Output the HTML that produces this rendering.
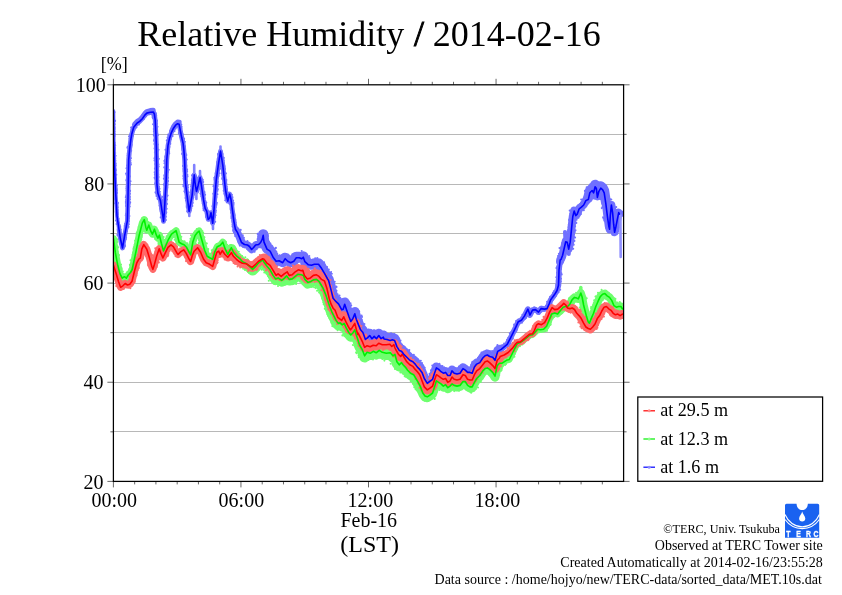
<!DOCTYPE html>
<html><head><meta charset="utf-8"><title>Relative Humidity / 2014-02-16</title>
<style>
html,body{margin:0;padding:0;background:#fff;}
svg{display:block;will-change:transform;font-family:"Liberation Serif","Times New Roman",serif;fill:#000;}
.ax{stroke:#000;stroke-width:1.25;fill:none;stroke-linecap:square}
.tk{stroke:#000;stroke-width:0.6;fill:none}
.gr{stroke:#b8b8b8;stroke-width:1;fill:none}
.h{fill:none;stroke-linejoin:round;stroke-linecap:round}
.l{fill:none;stroke-width:1.6;stroke-linejoin:round;stroke-linecap:round}
</style></head><body>
<svg width="842" height="595" viewBox="0 0 842 595">
<rect width="842" height="595" fill="#fff"/>

<line class="gr" x1="113.4" x2="623.60" y1="134.5" y2="134.5"/>
<line class="gr" x1="113.4" x2="623.60" y1="184.5" y2="184.5"/>
<line class="gr" x1="113.4" x2="623.60" y1="233.5" y2="233.5"/>
<line class="gr" x1="113.4" x2="623.60" y1="283.5" y2="283.5"/>
<line class="gr" x1="113.4" x2="623.60" y1="332.5" y2="332.5"/>
<line class="gr" x1="113.4" x2="623.60" y1="382.5" y2="382.5"/>
<line class="gr" x1="113.4" x2="623.60" y1="431.5" y2="431.5"/>
<clipPath id="cp"><rect x="113.4" y="84.80" width="510.2" height="396.6"/></clipPath><g clip-path="url(#cp)">
<path class="h" stroke="#7070ff" stroke-width="3.8" d="M113.4,111.0 L113.7,140.0 L114.4,165.0 L115.5,190.0 L117.0,216.0 L119.0,229.4"/>
<path fill="none" stroke="#7070ff" stroke-width="2.1" stroke-linecap="round" d="M114.6,124.3h0M112.4,132.6h0M112.6,119.6h0M114.6,136.1h0M114.5,120.4h0M112.5,115.0h0M115.1,120.9h0M112.4,124.4h0M112.8,137.6h0M111.8,114.0h0M112.5,117.7h0M114.5,124.2h0M114.9,134.3h0M112.2,118.7h0M114.5,128.9h0M114.5,127.4h0M112.7,137.3h0M112.5,114.8h0M114.5,112.3h0M112.2,117.0h0M114.5,131.5h0M112.6,120.3h0M113.3,157.8h0M115.2,158.3h0M112.8,155.4h0M115.2,152.9h0M114.7,142.7h0M115.2,145.5h0M115.1,147.9h0M115.3,160.6h0M112.9,145.7h0M115.0,155.2h0M114.9,149.8h0M112.8,163.1h0M113.2,160.5h0M115.6,155.8h0M114.9,144.6h0M112.8,156.6h0M113.3,158.6h0M115.6,163.5h0M113.2,164.6h0M113.1,167.5h0M116.3,174.8h0M116.5,187.3h0M116.2,184.5h0M115.6,165.4h0M113.6,168.5h0M113.0,169.5h0M116.9,185.5h0M113.2,166.6h0M115.6,169.3h0M115.8,170.2h0M114.0,183.3h0M113.7,174.2h0M116.9,189.1h0M114.0,175.4h0M116.0,181.9h0M115.9,178.5h0M113.7,180.0h0M116.5,186.3h0M114.7,196.4h0M116.9,190.8h0M117.6,211.1h0M114.5,191.6h0M117.0,192.9h0M117.8,214.4h0M117.2,203.0h0M115.0,199.0h0M116.0,214.5h0M115.1,203.3h0M114.2,192.0h0M117.8,203.7h0M117.7,207.4h0M114.8,194.9h0M117.6,209.9h0M117.9,202.8h0M117.4,205.9h0M114.9,196.6h0M117.7,212.7h0M115.8,211.9h0M119.8,228.4h0M116.6,224.0h0M120.2,226.9h0M119.7,227.6h0M118.5,218.8h0M120.1,227.9h0M116.0,220.5h0M119.8,225.3h0M116.8,223.8h0M119.0,222.7h0M116.7,220.0h0"/>
<path class="h" stroke="#7070ff" stroke-width="4.8" d="M119.0,229.4 L120.4,238.8 L122.5,248.0 L124.6,235.8 L127.4,220.6 L128.0,197.8 L128.4,175.0 L128.7,159.5 L129.7,148.4 L130.7,140.4 L131.7,134.3 L133.7,127.2 L137.2,123.0 L139.7,121.4 L142.3,118.7 L144.8,115.1 L146.8,113.1 L150.3,112.3 L153.4,112.1 L154.4,114.1 L155.2,120.2 L155.9,134.3 L156.4,147.4 L156.6,159.5 L156.8,175.0 L156.9,184.2 L157.9,193.3 L160.4,200.4 L162.9,216.5 L163.5,221.4 L164.3,213.0 L165.2,197.0 L166.0,184.2 L166.5,170.0 L166.8,159.5 L168.0,145.4 L169.5,138.3 L171.5,132.3 L173.5,128.2 L175.6,125.2 L177.6,123.7 L179.1,124.2 L180.1,129.3 L181.6,137.3 L183.1,143.4 L183.9,150.4 L184.6,160.0 L185.1,173.0 L185.6,184.2 L187.7,200.4 L189.1,211.5 L190.6,203.4 L192.0,196.1 L193.4,183.0 L194.2,174.8 L195.2,184.0 L196.5,191.5 L198.0,186.0 L200.1,177.3 L201.2,184.0 L202.1,190.0 L203.6,200.1 L205.2,208.7 L206.7,211.2 L208.2,219.3 L209.7,218.2 L211.0,212.7 L212.7,223.3 L214.0,210.2 L214.7,199.5 L216.2,180.4 L218.3,165.2 L220.5,151.1 L222.8,165.2 L224.2,178.0 L225.5,190.0 L226.8,197.0 L227.8,201.1 L229.6,194.0 L230.9,199.0 L232.4,210.2 L233.9,221.3 L235.4,229.3 L236.0,230.2"/>
<path fill="none" stroke="#7070ff" stroke-width="2.1" stroke-linecap="round" d="M120.6,229.6h0M121.6,237.0h0M120.5,229.7h0M121.8,237.6h0M117.9,235.4h0M117.4,234.9h0M121.7,237.0h0M122.0,235.4h0M120.1,243.7h0M122.3,240.1h0M119.9,243.8h0M122.9,241.6h0M122.1,239.3h0M122.0,239.4h0M120.9,247.4h0M122.4,239.2h0M122.5,237.4h0M124.9,246.4h0M122.9,237.2h0M126.1,237.7h0M125.8,239.3h0M121.1,243.4h0M124.9,246.4h0M125.0,245.3h0M122.6,236.0h0M128.3,224.7h0M128.5,226.9h0M125.1,223.7h0M124.7,225.9h0M123.1,235.5h0M127.4,228.3h0M128.8,224.3h0M127.0,231.2h0M128.7,221.2h0M128.1,225.7h0M127.9,225.9h0M123.2,235.5h0M129.4,216.0h0M130.2,202.3h0M126.1,213.9h0M126.2,199.9h0M129.7,206.5h0M129.5,206.4h0M129.9,199.3h0M128.9,218.1h0M129.7,202.5h0M125.9,215.2h0M125.9,202.9h0M125.8,215.4h0M126.1,205.0h0M126.5,202.9h0M125.9,201.6h0M129.8,203.7h0M126.0,206.0h0M126.5,188.4h0M129.9,184.8h0M129.7,183.5h0M126.5,195.2h0M126.2,196.4h0M129.8,196.9h0M129.8,183.7h0M126.7,186.4h0M130.1,190.9h0M129.6,196.8h0M126.6,179.5h0M126.7,190.6h0M129.8,176.4h0M125.8,197.3h0M129.9,193.8h0M130.5,181.3h0M126.4,180.4h0M127.1,165.5h0M126.8,173.7h0M126.5,168.3h0M127.2,165.5h0M130.1,161.5h0M127.0,168.0h0M127.0,167.7h0M126.1,173.6h0M130.4,160.8h0M130.9,164.6h0M130.6,162.9h0M126.5,174.7h0M131.1,149.6h0M130.6,158.0h0M131.2,150.8h0M128.0,151.3h0M130.9,158.2h0M127.8,153.4h0M127.7,155.2h0M131.0,150.1h0M127.4,147.8h0M131.5,145.5h0M127.7,146.9h0M131.3,146.8h0M128.4,147.2h0M131.6,144.6h0M129.6,136.1h0M130.2,134.5h0M132.9,135.8h0M129.0,136.2h0M129.6,138.6h0M134.5,129.8h0M131.1,127.6h0M131.5,129.6h0M135.7,128.1h0M131.0,131.5h0M131.6,129.3h0M135.0,122.5h0M136.5,127.2h0M139.0,124.5h0M135.4,122.2h0M135.0,122.7h0M138.9,124.6h0M137.9,120.4h0M139.2,119.9h0M140.9,117.8h0M138.7,119.8h0M146.2,116.2h0M141.0,116.8h0M143.8,119.0h0M142.3,115.4h0M146.6,115.3h0M145.6,112.2h0M147.5,111.1h0M149.6,114.3h0M148.4,114.3h0M151.6,110.0h0M150.9,113.7h0M155.8,113.2h0M152.3,114.1h0M152.4,115.2h0M153.2,115.7h0M153.0,118.2h0M152.5,117.1h0M156.2,115.4h0M156.8,121.7h0M154.0,125.1h0M156.8,123.7h0M154.4,133.1h0M153.9,131.3h0M157.0,120.6h0M153.8,129.1h0M153.1,124.2h0M157.5,126.8h0M153.9,124.4h0M154.4,135.4h0M157.7,144.5h0M157.4,134.9h0M157.5,134.4h0M153.9,135.4h0M154.5,144.0h0M153.8,134.8h0M154.3,139.5h0M157.8,135.3h0M154.0,140.7h0M154.6,148.4h0M157.9,150.8h0M158.8,158.8h0M155.0,157.2h0M158.5,149.8h0M157.9,150.8h0M154.5,158.3h0M158.1,156.7h0M154.9,152.3h0M158.6,166.5h0M154.6,160.4h0M158.2,170.6h0M155.3,164.1h0M154.9,168.6h0M155.1,160.2h0M158.2,174.5h0M158.5,164.6h0M158.4,159.6h0M158.1,163.3h0M154.7,172.3h0M154.9,174.2h0M158.5,183.5h0M155.3,175.7h0M158.4,180.7h0M158.5,177.0h0M154.6,177.8h0M155.2,183.4h0M155.2,178.8h0M159.5,188.7h0M156.1,192.2h0M158.9,188.5h0M159.8,191.8h0M156.1,193.1h0M159.0,186.7h0M155.5,192.4h0M159.8,194.4h0M157.5,198.3h0M157.7,199.0h0M156.5,194.7h0M156.5,196.0h0M160.5,196.2h0M163.7,212.3h0M160.4,210.0h0M160.2,208.5h0M163.9,208.4h0M159.8,205.7h0M159.6,205.8h0M164.4,214.8h0M163.6,210.0h0M162.2,201.4h0M160.3,209.7h0M162.7,205.3h0M160.6,210.9h0M164.9,216.0h0M165.3,219.7h0M164.8,220.7h0M161.9,220.8h0M160.7,217.4h0M165.8,216.7h0M162.3,213.9h0M165.5,219.5h0M162.1,219.9h0M165.4,216.5h0M165.9,220.1h0M163.5,201.8h0M162.8,204.4h0M163.0,196.9h0M163.3,196.9h0M166.9,203.9h0M162.9,201.5h0M162.9,210.8h0M166.9,199.5h0M166.7,208.8h0M163.3,204.0h0M166.3,212.3h0M166.1,212.9h0M167.6,184.5h0M167.1,188.6h0M167.3,185.5h0M166.8,196.5h0M163.8,184.6h0M167.6,195.5h0M164.0,184.2h0M164.3,185.0h0M163.8,184.5h0M167.3,187.3h0M163.9,178.7h0M168.0,170.8h0M168.1,181.1h0M164.3,175.4h0M164.2,178.2h0M167.9,171.8h0M164.5,176.4h0M164.7,177.7h0M167.9,177.7h0M167.8,172.3h0M164.3,167.4h0M165.0,159.9h0M164.5,163.3h0M165.3,162.1h0M168.8,169.7h0M164.4,160.9h0M168.4,169.8h0M168.0,167.3h0M165.5,149.8h0M165.5,156.1h0M166.1,150.1h0M169.0,152.1h0M169.4,146.9h0M169.2,153.4h0M165.3,156.6h0M165.4,157.9h0M169.1,151.9h0M165.4,157.4h0M166.1,149.7h0M170.7,139.3h0M170.1,142.2h0M170.3,143.7h0M166.8,140.5h0M169.8,143.9h0M167.3,140.1h0M168.3,134.5h0M172.6,136.0h0M168.3,135.8h0M167.6,137.5h0M169.9,132.4h0M170.8,130.5h0M174.5,131.1h0M170.0,131.3h0M175.7,128.6h0M176.6,126.5h0M172.8,126.8h0M175.0,123.8h0M176.7,126.2h0M177.5,125.6h0M177.8,126.1h0M181.3,128.2h0M181.3,124.5h0M181.6,126.7h0M177.6,126.4h0M183.1,136.5h0M179.3,133.2h0M178.8,133.1h0M179.6,134.1h0M182.4,133.8h0M182.1,132.1h0M182.6,134.5h0M184.8,141.7h0M184.0,139.2h0M183.9,140.4h0M184.1,138.5h0M184.2,142.1h0M182.2,147.8h0M184.9,146.3h0M182.4,149.9h0M182.2,149.1h0M181.8,144.9h0M182.1,153.9h0M186.3,155.0h0M186.8,159.6h0M185.6,153.6h0M182.7,153.0h0M186.1,159.5h0M185.9,158.2h0M185.7,155.6h0M186.4,170.4h0M183.6,171.0h0M186.1,162.8h0M186.5,168.9h0M186.3,166.6h0M183.0,165.9h0M183.5,169.1h0M187.1,171.4h0M186.3,165.4h0M187.1,169.8h0M187.0,184.1h0M187.1,181.9h0M187.5,176.4h0M183.5,178.6h0M183.8,179.9h0M183.4,176.1h0M186.8,174.5h0M187.3,174.8h0M185.5,198.1h0M184.9,192.3h0M184.4,191.3h0M183.4,184.9h0M189.0,199.2h0M188.4,192.0h0M187.5,185.4h0M186.0,200.5h0M183.5,186.2h0M184.7,191.2h0M187.9,185.0h0M187.9,187.3h0M186.7,206.9h0M190.6,207.7h0M186.7,206.0h0M189.7,203.4h0M190.8,210.2h0M189.4,202.9h0M186.9,205.5h0M187.2,211.4h0M190.0,206.7h0M191.2,208.6h0M188.2,208.9h0M188.4,207.3h0M192.2,205.3h0M188.1,206.4h0M187.5,208.1h0M192.3,206.0h0M189.2,198.9h0M190.5,196.1h0M193.2,197.4h0M189.6,200.9h0M192.7,202.9h0M189.2,202.7h0M194.5,185.5h0M191.0,190.4h0M191.7,185.4h0M194.0,194.8h0M194.7,184.1h0M191.2,186.3h0M194.5,193.6h0M194.8,183.3h0M190.5,192.6h0M191.7,183.0h0M192.2,179.3h0M195.6,178.7h0M195.8,176.2h0M195.5,177.4h0M192.6,175.9h0M191.8,180.8h0M192.0,175.2h0M196.6,179.5h0M192.9,175.4h0M195.9,175.9h0M193.2,180.4h0M196.9,177.6h0M196.5,180.6h0M193.5,182.7h0M195.0,191.3h0M194.9,191.0h0M197.0,184.2h0M194.5,188.7h0M193.7,187.9h0M194.9,191.7h0M199.1,188.5h0M198.0,191.8h0M195.2,190.8h0M198.2,191.2h0M200.8,181.7h0M199.6,186.1h0M198.5,177.7h0M198.5,178.0h0M200.3,183.3h0M197.8,180.0h0M199.9,184.0h0M203.2,182.0h0M198.6,180.2h0M201.8,179.1h0M202.8,179.9h0M198.2,179.4h0M199.7,183.4h0M203.3,188.0h0M199.2,184.5h0M203.2,186.3h0M203.1,185.5h0M200.3,187.6h0M205.1,194.6h0M201.0,194.2h0M201.4,196.3h0M204.3,191.8h0M204.8,194.4h0M204.5,192.2h0M204.9,194.9h0M200.5,193.5h0M205.6,203.0h0M205.4,201.3h0M207.1,208.2h0M203.6,208.8h0M205.7,203.9h0M202.8,203.5h0M206.3,202.5h0M204.4,210.6h0M203.6,210.3h0M209.3,214.2h0M209.5,213.5h0M208.6,213.5h0M206.0,217.0h0M208.9,213.0h0M205.9,215.9h0M209.0,211.5h0M209.2,220.5h0M208.3,216.9h0M208.3,217.5h0M208.2,217.3h0M208.8,215.1h0M208.6,215.3h0M210.4,219.2h0M210.2,218.4h0M209.5,216.9h0M214.6,222.0h0M211.2,223.0h0M213.0,214.3h0M213.1,214.7h0M212.8,215.1h0M215.8,210.7h0M212.2,212.0h0M214.9,216.4h0M215.6,215.2h0M214.9,217.2h0M211.3,214.0h0M215.5,212.5h0M215.2,221.8h0M211.8,213.4h0M215.2,213.0h0M216.8,202.8h0M212.8,206.1h0M212.7,205.9h0M216.2,202.9h0M216.6,203.5h0M216.5,204.8h0M215.6,207.1h0M212.5,206.3h0M215.8,207.0h0M217.4,183.1h0M213.7,185.7h0M217.6,185.9h0M216.5,197.0h0M217.8,181.9h0M217.6,184.2h0M216.5,194.2h0M217.3,190.0h0M213.3,193.8h0M213.5,186.3h0M217.3,188.2h0M217.5,190.8h0M217.8,189.3h0M217.4,194.2h0M216.2,197.7h0M218.6,175.9h0M215.7,173.3h0M214.3,177.9h0M219.3,168.9h0M215.1,177.0h0M220.0,168.8h0M219.7,165.6h0M218.4,174.6h0M220.1,165.8h0M219.5,168.5h0M219.3,173.3h0M214.5,179.7h0M217.7,159.1h0M218.0,154.8h0M217.3,161.5h0M220.5,165.0h0M217.2,162.7h0M220.4,164.2h0M217.2,163.1h0M217.1,163.1h0M218.1,153.9h0M221.9,151.6h0M221.0,159.2h0M219.0,152.8h0M223.8,157.9h0M223.8,162.4h0M220.7,161.6h0M223.7,160.4h0M220.1,162.8h0M222.5,154.0h0M224.1,164.2h0M219.4,158.5h0M219.9,160.9h0M220.8,161.8h0M225.3,173.8h0M224.4,165.9h0M221.7,173.3h0M221.1,166.4h0M222.5,175.1h0M225.0,169.0h0M224.5,167.8h0M224.5,166.3h0M225.9,173.4h0M221.3,166.5h0M226.4,180.1h0M226.2,181.3h0M222.3,178.9h0M226.0,181.1h0M226.6,186.7h0M222.2,178.3h0M226.2,183.2h0M226.9,188.8h0M223.4,183.6h0M223.0,184.1h0M227.6,193.5h0M223.7,190.7h0M224.4,193.7h0M224.3,191.1h0M224.6,193.0h0M224.7,194.4h0M225.2,200.2h0M225.7,198.6h0M226.0,199.9h0M229.4,200.6h0M226.4,199.5h0M226.7,198.9h0M230.3,198.5h0M230.7,197.9h0M231.3,196.7h0M231.5,195.3h0M231.9,194.8h0M232.5,197.3h0M227.8,195.1h0M230.7,209.6h0M230.7,208.3h0M230.0,204.0h0M229.2,203.4h0M233.1,200.8h0M233.5,204.7h0M233.7,203.0h0M229.6,200.0h0M230.7,208.3h0M234.4,214.3h0M231.5,217.4h0M231.5,216.2h0M232.4,220.9h0M231.3,212.8h0M232.3,221.0h0M235.4,219.9h0M231.5,218.3h0M234.5,215.5h0M235.6,222.2h0M232.6,222.5h0M233.2,227.4h0M232.5,224.6h0M232.6,226.1h0M232.5,226.4h0M234.6,230.8h0"/>
<path class="h" stroke="#7070ff" stroke-width="7.5" d="M236.0,230.2 L237.4,232.4 L239.5,237.4 L241.5,242.5 L244.5,244.5 L247.5,245.0 L249.5,246.5 L251.6,249.5 L253.6,247.5 L255.6,245.0 L258.6,244.5 L260.6,242.5 L262.0,239.8"/>
<path fill="none" stroke="#7070ff" stroke-width="2.1" stroke-linecap="round" d="M240.7,229.9h0M234.0,232.3h0M235.5,235.1h0M242.8,235.3h0M235.0,234.5h0M235.2,236.1h0M243.9,237.9h0M238.1,241.6h0M244.0,240.1h0M243.2,237.3h0M242.9,246.7h0M244.4,240.5h0M239.8,245.6h0M246.1,242.0h0M247.4,241.1h0M247.0,248.9h0M247.3,249.0h0M253.4,246.6h0M248.3,250.3h0M254.5,246.7h0M249.5,246.1h0M254.6,251.8h0M257.0,248.5h0M256.7,249.2h0M256.4,242.0h0M256.8,248.0h0M257.3,241.7h0M258.0,240.7h0M260.8,246.2h0M264.2,244.2h0M257.8,239.7h0M264.4,242.8h0"/>
<path class="h" stroke="#7070ff" stroke-width="10.5" d="M262.0,239.0 L262.2,238.6 L263.2,234.6 L264.0,241.3 L267.0,248.3 L270.1,250.3 L273.1,256.4 L276.1,260.4 L279.1,259.9 L282.7,261.9 L285.2,257.9 L287.7,260.4 L290.7,261.9 L293.8,260.4 L296.3,256.9 L299.3,256.9 L301.8,257.9 L303.3,256.4 L304.9,260.9 L308.4,264.0 L311.4,264.5 L314.4,263.5 L318.5,263.5 L321.5,267.5 L324.5,272.5 L327.6,278.2 L328.6,279.7 L330.0,285.1"/>
<path fill="none" stroke="#7070ff" stroke-width="2.1" stroke-linecap="round" d="M258.3,236.8h0M257.7,233.9h0M266.9,237.6h0M267.2,237.0h0M267.9,236.3h0M258.5,235.6h0M267.8,235.1h0M259.4,240.8h0M258.6,241.6h0M261.0,247.4h0M272.2,246.1h0M269.1,242.1h0M270.8,245.3h0M269.2,242.4h0M271.4,245.4h0M265.7,254.7h0M270.4,243.6h0M275.9,247.9h0M277.2,253.5h0M266.4,254.4h0M276.3,251.5h0M274.4,249.4h0M275.3,251.3h0M272.3,262.6h0M279.1,257.3h0M268.8,259.8h0M279.8,255.4h0M277.7,265.0h0M275.4,255.4h0M276.3,254.7h0M281.8,255.2h0M282.1,255.6h0M277.7,265.4h0M285.1,257.5h0M280.7,257.0h0M288.4,262.7h0M280.9,256.4h0M288.8,255.5h0M288.2,254.9h0M290.2,256.9h0M287.8,265.7h0M288.7,265.6h0M290.5,256.6h0M294.0,266.7h0M295.3,265.0h0M292.4,254.2h0M292.4,255.1h0M298.5,261.5h0M298.2,261.4h0M299.3,261.2h0M303.0,253.4h0M301.7,251.0h0M297.4,253.4h0M309.0,258.6h0M309.3,256.0h0M309.4,257.9h0M308.8,257.1h0M304.3,267.1h0M302.4,264.7h0M301.5,264.9h0M308.2,270.1h0M308.1,268.3h0M315.4,269.0h0M309.8,258.6h0M313.8,269.9h0M317.3,258.0h0M316.4,259.2h0M315.2,258.2h0M316.7,268.3h0M324.1,262.4h0M317.6,269.4h0M324.6,264.2h0M313.9,267.1h0M328.3,270.1h0M327.1,267.1h0M318.3,272.7h0M328.8,269.5h0M322.5,280.8h0M320.6,274.7h0M329.9,273.4h0M331.1,272.1h0M331.8,273.8h0M323.8,282.1h0M334.7,281.8h0M323.9,281.6h0M323.3,283.9h0M324.4,283.9h0"/>
<path class="h" stroke="#7070ff" stroke-width="10" d="M330.0,284.1 L331.1,288.3 L333.1,296.4 L336.1,299.9 L338.7,302.4 L341.7,308.0 L343.2,307.5 L344.7,302.4 L346.7,308.5 L348.8,314.5 L350.8,319.6 L352.8,317.0 L354.8,312.0 L356.3,317.5 L358.3,322.6 L360.4,327.6 L362.9,330.7 L364.2,334.2 L365.4,337.6 L367.4,336.1 L369.7,333.8 L372.0,336.9 L374.2,334.6 L376.5,336.9 L378.8,333.8 L381.1,336.9 L383.4,335.4 L384.0,337.2 L387.0,337.7 L390.1,338.7 L392.4,338.0 L394.6,338.7 L396.9,344.8 L399.2,348.6 L401.5,349.4 L403.8,352.4 L406.8,355.4 L409.8,358.5 L412.9,360.0 L415.2,362.3 L417.4,365.3 L419.7,367.6 L420.0,368.0"/>
<path fill="none" stroke="#7070ff" stroke-width="2.1" stroke-linecap="round" d="M326.0,287.0h0M336.1,286.6h0M336.5,286.9h0M326.4,292.4h0M327.8,296.5h0M337.2,295.3h0M336.5,290.7h0M328.6,295.3h0M325.9,290.5h0M339.5,295.5h0M337.6,294.2h0M331.9,301.8h0M331.7,300.9h0M332.9,303.2h0M340.1,297.8h0M343.7,301.4h0M337.6,308.9h0M343.0,301.9h0M334.8,304.7h0M340.9,304.0h0M349.2,304.1h0M348.3,306.1h0M339.6,303.2h0M349.1,304.9h0M348.9,301.8h0M350.5,303.3h0M341.9,309.1h0M341.1,306.6h0M351.2,305.4h0M343.4,315.2h0M342.5,312.7h0M353.1,312.3h0M343.1,312.2h0M343.3,315.0h0M345.2,320.8h0M345.7,317.7h0M345.7,318.2h0M353.2,314.6h0M347.8,316.6h0M347.3,316.0h0M354.2,321.8h0M358.3,315.4h0M358.8,316.9h0M359.2,315.0h0M349.8,310.4h0M359.1,311.3h0M351.2,314.1h0M359.2,311.5h0M350.8,318.8h0M352.2,318.2h0M361.7,320.3h0M362.0,316.9h0M361.6,319.6h0M361.6,315.5h0M364.4,324.0h0M356.0,327.4h0M356.4,329.2h0M355.6,326.6h0M359.1,332.3h0M359.3,333.0h0M358.1,331.7h0M368.4,329.5h0M367.9,332.3h0M368.1,330.7h0M368.9,335.4h0M360.7,336.8h0M369.3,336.0h0M364.1,333.5h0M363.0,334.2h0M371.9,339.2h0M372.5,338.9h0M373.4,332.1h0M367.1,338.5h0M367.1,337.7h0M370.1,333.0h0M377.8,339.0h0M377.1,338.0h0M379.4,331.7h0M372.4,339.0h0M373.8,333.1h0M382.3,336.8h0M374.0,330.4h0M376.4,337.4h0M384.3,334.0h0M374.9,337.6h0M384.5,340.2h0M384.3,339.7h0M379.7,338.5h0M378.3,339.0h0M385.8,342.2h0M383.5,342.0h0M386.6,342.6h0M388.8,334.1h0M391.2,333.4h0M390.2,333.8h0M391.6,342.4h0M394.3,334.1h0M391.7,342.5h0M392.3,346.0h0M400.5,340.5h0M391.5,343.9h0M399.2,338.6h0M402.4,346.1h0M401.9,345.2h0M401.8,345.1h0M401.2,345.0h0M401.9,344.6h0M399.1,353.8h0M400.2,354.7h0M397.4,352.6h0M407.3,349.6h0M408.9,351.9h0M409.3,350.1h0M406.4,361.1h0M410.9,353.9h0M403.4,358.7h0M411.7,354.8h0M413.8,354.7h0M410.3,363.6h0M410.9,366.1h0M417.5,358.9h0M411.9,367.7h0M420.8,360.7h0M412.9,367.6h0M416.0,370.7h0M422.0,363.0h0M416.6,370.1h0"/>
<path class="h" stroke="#7070ff" stroke-width="8.5" d="M420.0,368.6 L422.0,371.2 L424.3,377.3 L427.3,382.1 L429.6,380.3 L432.6,378.1 L434.5,372.0 L436.4,366.7 L438.7,368.2 L441.0,370.5 L443.3,372.0 L445.6,371.2 L447.8,374.3 L450.1,374.3 L452.0,369.7 L454.2,372.0 L457.0,372.8 L460.0,372.0 L463.0,367.4 L465.3,369.0 L467.6,371.2 L469.9,371.2 L472.2,372.0 L474.4,365.9 L476.7,362.9 L479.8,361.4 L482.8,356.8 L485.1,354.5 L487.4,353.8 L489.6,355.3 L492.7,356.0 L495.0,359.1 L497.7,350.2 L500.0,348.9"/>
<path fill="none" stroke="#7070ff" stroke-width="2.1" stroke-linecap="round" d="M424.7,367.8h0M419.2,372.9h0M426.2,372.8h0M419.7,376.6h0M419.9,374.9h0M426.8,374.7h0M419.8,376.5h0M421.7,379.4h0M424.5,383.8h0M429.4,379.2h0M421.6,380.3h0M430.2,384.6h0M431.6,383.3h0M430.9,385.0h0M427.2,376.0h0M429.8,375.8h0M434.5,382.1h0M429.7,374.1h0M430.5,373.8h0M429.6,373.9h0M436.8,375.5h0M429.5,374.0h0M431.0,370.2h0M438.5,372.0h0M432.3,365.5h0M439.2,369.8h0M434.8,370.6h0M439.4,363.7h0M442.4,366.0h0M443.5,367.5h0M444.1,367.4h0M439.1,373.5h0M443.3,367.7h0M446.3,375.3h0M443.4,367.9h0M442.4,373.7h0M443.1,375.5h0M443.0,373.3h0M448.5,379.2h0M448.7,378.9h0M455.6,373.3h0M454.9,371.4h0M446.4,370.6h0M454.8,371.6h0M455.9,368.0h0M450.5,372.8h0M457.1,369.4h0M456.5,368.2h0M453.7,375.2h0M459.2,375.9h0M456.8,369.0h0M458.2,367.8h0M464.0,371.8h0M458.9,366.5h0M458.1,368.8h0M460.7,370.9h0M462.3,371.3h0M464.6,373.6h0M463.5,373.9h0M469.5,367.6h0M468.0,367.7h0M468.6,374.5h0M470.7,375.0h0M470.8,375.1h0M471.2,365.1h0M468.9,368.6h0M469.3,369.7h0M468.9,369.2h0M476.5,369.8h0M472.4,361.9h0M472.9,362.2h0M472.2,362.5h0M479.3,365.9h0M478.1,358.6h0M482.7,362.9h0M478.1,358.0h0M486.0,360.9h0M483.7,362.0h0M481.5,352.6h0M487.1,357.4h0M486.4,350.6h0M487.5,358.0h0M487.1,358.0h0M490.2,351.2h0M493.1,352.8h0M492.1,351.0h0M490.6,359.8h0M490.6,361.1h0M490.2,358.1h0M493.5,351.3h0M500.9,354.6h0M493.0,354.5h0M499.3,356.3h0M491.4,354.3h0M493.7,352.2h0M493.2,353.8h0M497.5,345.0h0M497.3,345.9h0"/>
<path class="h" stroke="#7070ff" stroke-width="5.6" d="M500.0,350.1 L501.2,349.4 L504.2,346.9 L507.2,344.4 L510.3,338.3 L513.3,332.3 L515.8,327.2 L518.3,321.7 L521.4,320.2 L524.4,316.1 L526.4,312.1 L527.9,309.1 L529.9,315.1 L532.5,310.1 L535.5,309.6 L538.5,312.1 L541.0,308.6 L544.6,309.1 L547.1,308.6 L549.1,304.0 L550.6,300.0 L552.4,297.4 L554.7,294.3 L557.0,290.5 L558.5,285.2 L558.8,277.6 L559.0,270.0 L560.0,261.7"/>
<path fill="none" stroke="#7070ff" stroke-width="2.1" stroke-linecap="round" d="M498.8,347.4h0M502.8,345.4h0M502.0,345.3h0M502.0,346.4h0M504.1,343.5h0M507.1,347.1h0M508.3,345.8h0M506.7,341.5h0M507.1,340.3h0M507.0,339.9h0M508.3,337.8h0M510.7,343.8h0M509.8,333.3h0M511.0,332.8h0M511.4,331.7h0M512.8,338.6h0M510.3,333.3h0M516.6,330.6h0M515.5,331.9h0M516.9,329.4h0M516.9,329.2h0M516.1,331.5h0M514.4,325.6h0M519.6,323.4h0M514.1,324.6h0M516.1,321.0h0M519.7,323.4h0M521.9,322.8h0M521.4,322.2h0M518.3,319.6h0M522.4,314.8h0M524.4,319.3h0M526.0,317.9h0M525.1,318.7h0M528.4,313.5h0M526.7,316.6h0M528.8,313.5h0M525.9,309.0h0M528.9,312.1h0M528.7,312.7h0M526.9,311.7h0M527.8,315.1h0M526.7,312.8h0M528.0,315.4h0M534.3,311.4h0M528.5,313.4h0M529.5,311.1h0M534.2,311.4h0M534.1,307.2h0M535.8,311.7h0M534.9,311.5h0M537.2,313.6h0M539.2,309.0h0M538.5,308.9h0M541.5,311.6h0M538.1,309.0h0M541.8,306.9h0M543.3,310.7h0M545.9,305.9h0M545.2,307.1h0M547.2,303.3h0M547.0,304.3h0M546.7,305.0h0M547.1,301.8h0M551.3,303.7h0M548.0,301.8h0M552.7,300.2h0M550.1,296.9h0M553.4,299.2h0M555.7,296.2h0M553.0,293.1h0M554.8,297.4h0M553.8,291.3h0M558.5,292.2h0M553.4,292.8h0M556.2,284.8h0M560.2,289.8h0M556.2,285.9h0M556.6,285.3h0M561.0,278.7h0M560.8,281.2h0M556.7,281.2h0M556.7,283.1h0M556.7,280.3h0M560.8,281.4h0M556.3,277.2h0M561.3,273.5h0M561.7,274.5h0M561.3,273.2h0M557.1,272.7h0M557.3,268.6h0M557.5,266.0h0M556.4,268.0h0M561.9,262.2h0M561.0,269.0h0M557.0,267.0h0"/>
<path class="h" stroke="#7070ff" stroke-width="8" d="M560.0,261.4 L560.2,259.7 L561.1,259.0 L562.6,255.0 L564.2,247.9 L565.7,241.4 L567.2,241.9 L568.7,248.9 L570.2,241.9 L571.2,231.8 L572.2,221.7 L572.8,216.2 L574.2,210.7 L575.7,215.3 L577.2,213.8 L579.2,208.5 L581.4,206.9 L583.7,204.7 L586.0,200.1 L588.0,199.4"/>
<path fill="none" stroke="#7070ff" stroke-width="2.1" stroke-linecap="round" d="M563.0,261.2h0M562.9,261.9h0M558.0,256.0h0M564.9,257.5h0M559.3,254.3h0M558.9,255.8h0M567.2,250.1h0M559.5,248.1h0M566.8,251.9h0M558.9,253.7h0M566.4,252.0h0M567.4,248.8h0M561.2,247.2h0M569.0,244.0h0M568.4,244.8h0M562.2,243.0h0M568.4,243.8h0M565.3,245.5h0M564.5,249.4h0M571.5,242.4h0M571.8,244.5h0M570.9,244.2h0M570.9,244.7h0M565.3,249.2h0M573.2,248.7h0M565.6,247.6h0M573.0,243.3h0M573.2,243.2h0M573.7,244.8h0M571.8,248.8h0M574.0,233.9h0M574.2,232.4h0M573.9,237.1h0M575.1,237.5h0M567.4,231.6h0M566.6,239.9h0M574.4,240.9h0M575.1,226.2h0M576.3,222.9h0M568.7,226.3h0M575.5,230.3h0M568.6,227.4h0M568.8,224.6h0M574.8,232.0h0M568.3,229.9h0M576.5,218.4h0M576.6,219.7h0M569.1,220.1h0M569.3,219.5h0M578.5,211.9h0M569.7,210.6h0M570.8,211.1h0M576.5,214.0h0M571.1,210.4h0M578.9,211.2h0M571.5,213.5h0M570.4,213.5h0M572.6,215.5h0M578.5,217.8h0M572.9,212.3h0M573.9,210.7h0M574.5,212.2h0M580.9,214.1h0M574.6,210.6h0M578.2,205.3h0M583.8,210.3h0M581.1,202.6h0M579.7,204.3h0M587.7,203.6h0M588.9,202.6h0M587.8,203.8h0M581.2,199.5h0M586.2,196.2h0M588.7,202.5h0"/>
<path class="h" stroke="#7070ff" stroke-width="10" d="M588.0,197.7 L588.3,197.6 L589.8,190.8 L592.1,188.5 L593.6,190.8 L595.1,184.7 L596.3,186.2 L597.4,195.4 L598.9,189.3 L600.8,186.2 L602.7,187.8 L604.2,190.8 L605.8,201.4 L606.0,203.0"/>
<path fill="none" stroke="#7070ff" stroke-width="2.1" stroke-linecap="round" d="M586.7,193.1h0M594.1,198.6h0M592.5,197.1h0M593.5,198.2h0M584.9,190.9h0M592.8,197.1h0M586.7,187.2h0M593.9,194.0h0M593.7,192.5h0M589.5,191.8h0M596.9,187.9h0M589.5,192.8h0M589.6,187.8h0M598.0,189.8h0M590.1,188.1h0M590.3,184.2h0M599.3,186.1h0M592.0,187.2h0M591.5,188.8h0M601.3,189.0h0M600.5,186.1h0M602.0,193.3h0M601.9,190.9h0M601.2,192.3h0M601.1,187.6h0M600.9,191.2h0M591.5,189.8h0M602.1,193.8h0M603.7,194.4h0M604.2,191.8h0M593.5,191.1h0M603.1,190.7h0M597.3,184.3h0M595.3,186.4h0M595.4,185.9h0M598.0,189.9h0M599.3,190.8h0M599.6,190.8h0M599.1,189.6h0M599.7,192.8h0M609.7,199.3h0M601.1,196.9h0M600.3,194.5h0M600.8,199.1h0M611.3,199.5h0M600.9,197.7h0M609.6,198.8h0M610.0,202.5h0"/>
<path class="h" stroke="#7070ff" stroke-width="8" d="M606.0,205.0 L607.3,215.6 L608.8,226.2 L609.6,229.3 L610.3,215.6 L611.4,205.0 L612.6,212.6 L613.7,224.7 L614.6,232.3 L616.0,226.2 L617.5,218.6 L618.7,212.6 L619.5,214.1"/>
<path fill="none" stroke="#7070ff" stroke-width="2.1" stroke-linecap="round" d="M610.3,214.8h0M610.8,207.9h0M602.6,206.9h0M601.8,208.1h0M611.2,212.5h0M609.9,211.7h0M603.2,206.7h0M610.0,205.8h0M609.3,205.4h0M603.5,218.5h0M612.6,224.4h0M604.0,219.0h0M610.9,219.4h0M603.1,217.2h0M611.2,218.0h0M611.3,217.1h0M604.3,220.6h0M612.7,228.1h0M613.5,227.5h0M606.6,224.2h0M606.8,219.8h0M612.7,229.0h0M613.4,227.9h0M614.0,222.1h0M605.9,226.1h0M614.1,220.4h0M612.9,225.1h0M606.5,222.6h0M606.0,227.8h0M613.8,219.1h0M613.9,210.8h0M613.5,214.7h0M607.6,209.9h0M607.3,211.7h0M614.1,215.4h0M613.8,211.2h0M606.8,214.9h0M614.5,212.5h0M608.4,206.0h0M614.8,207.2h0M615.3,210.1h0M615.1,209.3h0M615.5,210.6h0M616.2,207.1h0M609.4,213.4h0M609.5,214.0h0M609.7,215.8h0M616.7,217.5h0M609.6,219.2h0M609.7,216.8h0M609.9,215.8h0M608.6,214.2h0M609.5,214.9h0M609.5,228.2h0M617.1,228.2h0M617.2,227.9h0M618.0,231.3h0M617.9,230.1h0M609.9,228.7h0M620.0,227.2h0M612.0,228.9h0M611.0,231.0h0M618.4,229.0h0M613.5,223.3h0M612.9,223.0h0M613.4,223.4h0M612.9,222.7h0M620.0,221.5h0M612.3,223.8h0M621.2,215.4h0M621.3,215.1h0M615.1,215.1h0M614.5,217.9h0M614.0,217.6h0M622.5,211.7h0"/>
<path class="h" stroke="#6eff6e" stroke-width="7" d="M113.5,238.7 L115.3,252.4 L117.6,264.5 L119.9,273.6 L122.2,278.2 L124.4,276.7 L126.4,278.2 L128.2,275.0 L130.5,272.5 L132.2,269.5 L134.2,260.0 L136.2,250.4 L139.2,235.2 L142.3,223.1 L144.3,219.6 L145.8,227.2 L146.8,230.2 L148.8,225.1 L150.8,231.2 L152.4,234.2 L154.4,229.2 L156.4,235.2 L157.9,238.2 L159.4,235.2 L161.4,243.3 L163.5,250.9 L165.5,246.3 L168.5,239.3 L171.5,234.2 L173.5,232.7 L176.1,230.7 L177.6,236.2 L179.1,242.3 L181.6,243.8 L184.1,244.8 L186.6,247.3 L189.2,252.4 L190.7,254.9 L192.9,241.7 L195.1,235.6 L197.4,232.6 L199.1,231.0 L200.6,236.0 L202.1,241.1 L204.6,250.2 L207.2,256.3 L209.7,257.8 L212.7,259.3 L214.7,252.2 L217.3,246.7 L220.3,245.2 L222.8,242.2 L225.3,249.2 L227.8,254.3 L228.0,253.9"/>
<path fill="none" stroke="#6eff6e" stroke-width="2.1" stroke-linecap="round" d="M111.6,243.7h0M111.3,243.4h0M117.1,239.4h0M111.6,243.6h0M117.4,241.9h0M112.3,248.9h0M117.5,246.3h0M118.1,247.4h0M116.9,240.6h0M111.9,248.9h0M113.1,260.8h0M119.0,255.0h0M119.1,258.7h0M118.5,255.7h0M113.4,255.9h0M118.9,255.5h0M113.2,260.2h0M113.6,258.5h0M114.3,260.7h0M121.0,267.3h0M117.0,272.5h0M121.5,268.1h0M122.8,271.5h0M121.0,264.6h0M116.8,272.0h0M121.7,269.0h0M121.3,268.4h0M123.5,274.9h0M117.2,276.4h0M118.8,277.1h0M123.1,274.3h0M121.3,275.6h0M125.2,280.3h0M127.7,274.6h0M122.7,279.8h0M130.2,276.6h0M129.9,279.0h0M130.1,276.8h0M131.1,276.6h0M127.2,272.4h0M132.9,275.0h0M133.8,273.0h0M129.5,269.1h0M133.2,273.1h0M135.8,268.4h0M130.5,260.3h0M129.9,264.7h0M137.5,260.7h0M137.1,261.0h0M130.0,265.3h0M135.8,267.9h0M138.2,253.4h0M137.8,256.2h0M132.7,254.8h0M133.1,252.5h0M138.4,253.1h0M139.0,253.8h0M138.9,253.7h0M131.8,259.0h0M135.1,240.8h0M140.2,248.3h0M140.3,243.8h0M141.1,238.4h0M140.6,247.7h0M133.8,247.3h0M133.5,248.9h0M141.7,236.9h0M134.7,244.9h0M141.2,239.2h0M140.1,244.1h0M141.3,239.6h0M144.6,228.8h0M143.9,227.5h0M136.8,232.6h0M143.9,227.2h0M144.6,229.1h0M136.7,234.4h0M141.7,235.5h0M144.3,230.5h0M138.7,227.1h0M146.6,221.5h0M142.1,218.4h0M145.6,224.5h0M149.0,225.6h0M147.9,221.7h0M147.1,219.3h0M147.0,220.1h0M148.3,226.6h0M141.1,222.5h0M150.0,228.2h0M144.0,229.8h0M148.4,227.1h0M149.9,231.0h0M144.0,227.0h0M143.9,227.5h0M144.3,226.9h0M147.0,227.6h0M152.8,227.4h0M147.2,231.1h0M146.9,227.6h0M146.9,228.2h0M149.0,233.5h0M155.0,231.2h0M154.2,231.5h0M156.3,232.0h0M156.3,231.7h0M151.4,228.5h0M155.1,234.2h0M151.9,233.1h0M157.8,230.7h0M157.5,230.1h0M153.3,234.1h0M153.9,235.8h0M160.0,234.6h0M154.1,236.4h0M155.2,239.0h0M161.5,239.1h0M160.4,238.9h0M156.9,236.7h0M162.6,237.6h0M164.4,239.7h0M164.5,241.4h0M163.6,237.1h0M162.7,238.1h0M158.5,244.0h0M165.5,245.1h0M165.8,247.7h0M166.2,249.5h0M159.2,249.3h0M164.4,244.1h0M165.7,244.7h0M158.8,246.0h0M162.2,247.5h0M161.4,248.1h0M166.6,250.3h0M162.3,246.2h0M170.6,242.6h0M163.4,243.3h0M162.9,243.1h0M169.2,246.4h0M171.2,240.8h0M162.7,243.9h0M166.7,236.4h0M173.8,236.9h0M172.6,237.3h0M168.4,233.8h0M170.7,231.6h0M173.8,235.8h0M176.2,233.9h0M176.5,233.6h0M173.9,233.4h0M173.0,232.9h0M174.0,237.1h0M179.9,233.8h0M174.7,239.8h0M180.6,237.0h0M176.1,241.2h0M181.3,236.8h0M176.2,241.6h0M182.0,241.0h0M179.1,245.3h0M184.5,241.3h0M183.3,241.6h0M183.0,247.4h0M187.5,243.4h0M184.2,249.2h0M184.8,249.3h0M186.1,252.1h0M185.2,251.9h0M185.2,250.1h0M187.7,254.8h0M188.0,255.8h0M187.6,255.0h0M196.2,244.4h0M194.3,253.7h0M194.8,245.8h0M190.2,242.0h0M188.9,246.9h0M194.7,251.1h0M188.8,250.3h0M188.5,253.1h0M187.6,251.2h0M195.8,246.9h0M194.8,246.8h0M197.0,237.9h0M191.1,235.3h0M197.2,237.9h0M190.5,238.7h0M192.0,236.1h0M194.1,232.6h0M195.1,231.4h0M198.8,235.4h0M201.1,234.4h0M196.8,229.1h0M203.2,232.9h0M202.5,231.3h0M202.3,231.4h0M198.0,236.4h0M199.3,240.6h0M203.9,238.5h0M204.4,237.2h0M203.5,237.1h0M198.7,243.1h0M200.8,250.5h0M200.9,246.7h0M206.6,243.3h0M207.1,249.4h0M200.5,246.6h0M206.8,243.5h0M208.2,249.1h0M204.0,255.3h0M207.9,251.1h0M201.0,251.7h0M203.7,255.7h0M209.5,254.0h0M210.0,253.9h0M213.7,256.2h0M209.8,261.4h0M210.8,253.8h0M210.3,254.0h0M217.2,253.6h0M216.9,253.5h0M216.4,256.8h0M215.9,257.2h0M212.5,251.0h0M219.6,248.1h0M211.8,250.3h0M212.4,250.0h0M219.4,248.6h0M216.8,244.0h0M219.5,248.4h0M223.8,245.6h0M224.4,245.5h0M223.6,245.9h0M227.5,247.7h0M220.8,244.0h0M227.1,244.8h0M226.0,243.4h0M225.9,241.9h0M221.0,248.7h0M229.8,251.4h0M230.1,251.9h0M229.1,249.9h0M223.7,251.7h0M225.0,252.7h0"/>
<path class="h" stroke="#6eff6e" stroke-width="10" d="M228.0,255.1 L231.4,248.9 L233.4,253.4 L236.4,257.0 L239.5,259.5 L242.5,263.0 L246.5,265.0 L249.5,267.6 L252.6,270.6 L255.6,267.6 L258.6,264.0 L262.7,261.0 L264.0,263.4 L267.0,267.5 L270.1,271.0 L273.1,276.6 L275.6,280.1 L278.1,279.1 L281.7,281.6 L284.2,279.6 L286.7,277.1 L289.2,280.6 L292.2,280.1 L295.3,277.6 L297.8,275.5 L301.3,276.0 L303.3,276.6 L304.9,280.6 L307.9,283.6 L310.9,282.6 L313.4,281.1 L316.5,280.6 L319.0,282.6 L320.0,284.2 L323.0,289.3 L325.5,295.3 L327.6,301.4 L329.6,307.4 L330.0,308.4"/>
<path fill="none" stroke="#6eff6e" stroke-width="2.1" stroke-linecap="round" d="M232.0,256.7h0M234.9,251.6h0M226.8,246.7h0M226.6,249.2h0M233.9,253.0h0M226.9,248.8h0M236.1,249.4h0M237.0,251.1h0M227.2,252.4h0M237.4,251.6h0M238.8,251.7h0M239.6,254.3h0M239.5,254.2h0M229.9,257.1h0M239.3,254.2h0M242.1,256.1h0M234.3,260.5h0M245.3,257.3h0M238.6,265.3h0M245.0,259.7h0M248.1,259.8h0M243.2,268.8h0M247.1,259.2h0M251.5,264.0h0M249.8,262.0h0M245.0,270.0h0M253.5,265.9h0M255.4,267.7h0M248.4,272.3h0M249.0,272.8h0M250.4,267.0h0M251.8,264.2h0M250.6,265.9h0M259.3,269.5h0M261.7,269.7h0M253.2,264.2h0M253.5,263.1h0M261.6,266.8h0M257.9,259.5h0M258.3,259.1h0M259.5,258.0h0M260.1,264.5h0M266.9,260.3h0M270.2,264.9h0M270.5,264.8h0M268.7,262.0h0M271.3,263.8h0M273.1,268.3h0M264.3,272.5h0M273.4,266.9h0M271.0,264.0h0M267.9,275.8h0M267.1,273.9h0M266.3,273.4h0M274.9,269.2h0M268.4,276.3h0M278.1,276.0h0M268.8,280.7h0M278.3,273.9h0M279.0,283.7h0M276.0,275.3h0M282.2,276.4h0M276.8,283.2h0M281.8,275.3h0M278.0,286.0h0M284.6,284.9h0M286.9,284.1h0M285.5,284.7h0M289.5,280.6h0M283.0,275.0h0M289.4,281.1h0M283.6,281.2h0M285.3,282.7h0M290.8,275.5h0M292.6,284.1h0M290.5,276.3h0M290.6,276.0h0M290.3,276.5h0M290.8,274.6h0M291.8,275.3h0M296.1,283.9h0M300.4,278.8h0M294.1,273.3h0M299.7,281.5h0M300.3,271.8h0M298.4,279.7h0M300.1,280.6h0M303.5,272.5h0M300.7,281.1h0M307.3,275.4h0M298.8,280.3h0M309.1,276.0h0M308.1,277.6h0M310.0,278.1h0M311.2,279.0h0M310.8,279.0h0M311.8,287.0h0M311.3,286.7h0M306.8,278.1h0M314.1,287.2h0M309.3,277.2h0M309.5,278.8h0M314.3,276.1h0M316.0,284.9h0M314.2,284.6h0M320.1,278.1h0M316.0,286.6h0M315.8,288.1h0M324.3,283.6h0M317.1,290.7h0M326.0,286.3h0M327.3,287.6h0M328.2,291.0h0M319.9,292.4h0M319.1,292.4h0M328.4,291.6h0M322.2,298.5h0M330.4,296.0h0M330.7,297.3h0M323.4,302.5h0M331.2,294.6h0M324.8,308.7h0M323.7,304.2h0M332.0,302.0h0M333.6,303.3h0M332.1,302.3h0M325.9,309.1h0"/>
<path class="h" stroke="#6eff6e" stroke-width="10.5" d="M330.0,308.7 L331.6,312.8 L333.6,316.8 L336.1,321.9 L338.2,324.9 L340.2,324.4 L342.2,326.4 L344.2,324.9 L346.2,329.4 L348.8,334.0 L350.8,336.5 L352.8,334.5 L354.8,331.4 L356.3,336.5 L357.8,341.0 L359.6,346.7 L362.1,350.8 L364.6,357.3 L367.1,353.8 L370.2,354.8 L373.2,352.8 L376.2,354.3 L379.2,351.8 L382.3,353.8 L386.3,354.8 L390.3,354.3 L392.9,357.3 L394.9,355.8 L396.9,363.3 L399.2,366.3 L401.5,364.1 L403.0,366.3 L405.3,368.6 L407.6,371.7 L410.6,374.7 L413.6,376.2 L415.9,380.0 L418.2,383.8 L420.0,387.4"/>
<path fill="none" stroke="#6eff6e" stroke-width="2.1" stroke-linecap="round" d="M334.5,308.6h0M335.5,310.7h0M327.5,314.3h0M335.8,311.5h0M329.4,318.0h0M328.3,316.1h0M328.1,315.5h0M332.0,323.8h0M331.4,322.3h0M331.6,323.2h0M329.8,318.7h0M332.3,326.1h0M341.8,322.3h0M333.6,326.4h0M341.0,328.9h0M337.3,327.5h0M337.6,330.3h0M345.7,329.1h0M341.2,321.8h0M350.4,325.6h0M349.2,325.1h0M349.9,326.6h0M344.4,336.1h0M343.6,334.3h0M350.7,328.8h0M342.4,335.4h0M354.6,331.7h0M354.6,333.4h0M355.9,337.8h0M348.4,330.8h0M357.4,335.7h0M358.1,334.2h0M359.8,333.2h0M360.2,334.6h0M360.9,331.9h0M351.5,335.2h0M363.6,338.7h0M361.6,338.1h0M361.7,335.8h0M361.0,336.1h0M363.3,344.4h0M363.0,343.0h0M352.9,345.0h0M363.4,342.7h0M354.7,346.1h0M356.1,352.5h0M365.6,346.9h0M356.3,352.3h0M364.9,347.2h0M359.3,355.4h0M356.6,353.3h0M358.9,357.2h0M359.2,357.1h0M358.6,355.4h0M368.5,359.9h0M368.6,359.0h0M362.1,352.9h0M370.5,356.6h0M369.4,349.9h0M369.8,348.5h0M369.6,350.0h0M368.0,350.6h0M374.9,356.8h0M369.2,349.8h0M373.1,357.8h0M375.9,347.8h0M373.0,359.5h0M381.8,355.4h0M379.4,357.6h0M381.7,355.8h0M385.2,348.4h0M379.8,357.4h0M378.6,356.6h0M382.4,359.0h0M385.6,349.1h0M384.4,360.6h0M387.6,349.3h0M386.7,349.9h0M387.9,350.3h0M388.0,350.3h0M394.7,350.9h0M395.5,353.8h0M396.5,352.4h0M397.8,360.0h0M396.5,361.8h0M399.8,357.7h0M389.9,358.3h0M400.4,356.3h0M390.7,363.8h0M401.6,357.7h0M399.5,355.5h0M395.0,368.9h0M403.6,361.8h0M400.8,360.8h0M398.0,361.2h0M404.7,367.5h0M406.2,363.4h0M405.2,361.9h0M400.3,370.7h0M400.4,372.4h0M406.9,362.8h0M403.8,373.8h0M403.0,373.8h0M402.2,372.7h0M405.6,376.7h0M404.7,376.3h0M405.0,376.3h0M410.8,379.6h0M409.7,379.1h0M418.6,376.2h0M410.7,381.1h0M410.8,380.6h0M413.3,383.9h0M420.6,377.9h0M420.2,377.5h0M415.1,387.2h0M422.6,383.2h0M414.3,387.3h0"/>
<path class="h" stroke="#6eff6e" stroke-width="9" d="M420.0,386.9 L420.5,387.9 L422.8,394.0 L425.0,397.0 L427.3,397.8 L429.6,396.3 L432.6,394.0 L434.5,387.9 L436.4,381.8 L438.7,383.3 L441.0,384.9 L443.3,387.1 L445.6,385.6 L447.8,388.7 L450.1,387.1 L452.0,384.9 L454.2,386.4 L457.0,387.1 L460.0,386.4 L463.0,382.6 L465.3,382.6 L467.6,386.4 L469.9,387.9 L472.2,387.9 L474.4,383.3 L476.7,379.5 L479.8,376.5 L482.8,371.9 L485.1,369.6 L487.4,368.9 L489.6,370.4 L492.7,373.4 L495.0,377.2 L497.2,366.6 L499.5,364.3 L500.0,364.3"/>
<path fill="none" stroke="#6eff6e" stroke-width="2.1" stroke-linecap="round" d="M415.6,389.2h0M425.2,387.5h0M425.8,390.0h0M418.5,392.6h0M417.6,390.6h0M424.5,388.2h0M428.5,393.7h0M428.1,394.1h0M426.2,392.6h0M424.7,400.8h0M424.7,400.6h0M425.4,393.1h0M426.9,392.2h0M432.5,398.5h0M429.8,391.0h0M434.7,398.9h0M428.6,392.6h0M437.1,391.6h0M430.3,389.1h0M428.6,391.1h0M429.6,391.6h0M431.9,384.2h0M439.5,388.7h0M438.6,386.8h0M439.5,384.6h0M439.6,383.8h0M436.1,386.8h0M436.1,385.8h0M442.7,381.1h0M441.9,380.9h0M443.9,382.5h0M439.5,388.3h0M439.3,390.0h0M440.9,383.0h0M448.0,390.3h0M443.2,389.2h0M450.9,383.9h0M442.3,389.0h0M445.7,383.7h0M446.6,385.2h0M445.5,384.2h0M454.4,387.8h0M453.4,388.9h0M456.3,383.0h0M455.1,381.9h0M456.0,382.2h0M454.2,391.1h0M459.1,390.8h0M459.2,390.3h0M458.8,390.6h0M463.0,388.2h0M466.7,385.9h0M465.5,387.4h0M463.6,387.6h0M463.6,386.2h0M463.5,386.6h0M469.7,383.1h0M470.8,382.6h0M469.7,383.1h0M466.7,390.0h0M469.7,383.6h0M470.5,392.3h0M471.2,392.7h0M467.7,385.6h0M478.0,387.5h0M470.8,382.6h0M475.8,389.0h0M472.9,378.3h0M480.3,382.0h0M472.0,380.2h0M472.4,377.9h0M480.8,382.0h0M474.2,376.3h0M480.7,381.1h0M475.4,373.5h0M477.6,370.5h0M478.1,369.8h0M478.1,370.2h0M478.0,370.0h0M482.3,367.0h0M485.9,373.7h0M484.3,365.8h0M485.1,365.9h0M487.2,373.0h0M487.2,373.0h0M494.0,369.8h0M487.5,373.4h0M494.8,369.3h0M489.6,375.5h0M497.5,372.7h0M497.3,373.0h0M498.1,375.0h0M501.9,368.6h0M500.4,368.6h0M491.9,373.1h0M499.2,375.2h0M492.2,373.4h0M501.6,370.1h0M500.8,367.5h0M500.9,370.9h0M499.7,369.0h0M499.9,368.8h0M500.0,369.3h0M499.6,368.0h0"/>
<path class="h" stroke="#6eff6e" stroke-width="6.5" d="M500.0,363.3 L501.8,363.3 L504.1,361.8 L506.4,360.3 L509.3,359.5 L512.3,353.5 L515.3,347.4 L517.3,343.4 L520.4,342.4 L523.4,340.4 L526.4,337.8 L529.4,335.3 L532.5,334.8 L535.0,332.3 L537.5,329.3 L540.5,329.8 L543.6,329.3 L546.6,326.2 L549.1,320.2 L551.6,314.1 L554.7,313.1 L557.7,314.1 L560.0,311.1"/>
<path fill="none" stroke="#6eff6e" stroke-width="2.1" stroke-linecap="round" d="M501.4,361.0h0M501.2,365.9h0M505.2,364.4h0M505.1,365.0h0M502.5,359.9h0M506.0,364.1h0M503.9,359.0h0M506.8,356.6h0M505.7,357.1h0M506.2,357.2h0M508.3,356.5h0M509.8,353.2h0M509.1,353.2h0M514.0,355.4h0M507.4,357.4h0M514.4,356.8h0M516.9,349.2h0M515.1,353.6h0M513.1,346.7h0M512.2,348.5h0M513.2,346.6h0M513.7,344.3h0M514.5,343.9h0M513.2,344.3h0M519.2,345.4h0M519.9,346.2h0M519.5,340.1h0M522.4,344.5h0M523.6,343.4h0M527.8,339.6h0M524.1,336.0h0M524.6,336.1h0M526.6,334.5h0M525.1,335.6h0M526.8,334.4h0M529.9,338.3h0M529.2,332.5h0M531.0,331.5h0M531.3,331.8h0M538.7,332.1h0M538.9,332.3h0M534.6,328.9h0M538.1,327.1h0M539.2,332.3h0M542.9,326.8h0M542.8,327.1h0M544.1,324.3h0M545.7,330.9h0M547.0,330.7h0M547.5,328.6h0M544.5,325.3h0M550.7,322.7h0M550.3,325.0h0M544.5,324.4h0M550.7,324.4h0M552.8,318.5h0M546.8,317.8h0M548.9,314.6h0M548.0,317.0h0M554.2,317.0h0M553.7,317.0h0M552.2,311.1h0M551.2,311.4h0M555.9,311.1h0M554.4,315.8h0M556.7,311.6h0M561.4,313.0h0M556.9,311.4h0"/>
<path class="h" stroke="#6eff6e" stroke-width="8" d="M560.0,311.1 L563.1,307.2 L565.4,306.5 L567.6,306.5 L569.9,304.2 L572.2,299.6 L574.5,297.4 L576.8,298.1 L578.3,298.9 L579.8,295.5 L580.8,293.0 L582.1,297.0 L583.6,305.0 L585.1,311.0 L586.7,317.1 L588.2,321.7 L589.4,323.2 L591.2,318.6 L593.5,313.3 L595.8,306.5 L598.1,301.2 L600.3,296.6 L602.6,294.3 L604.9,293.6 L607.2,295.8 L609.5,297.4 L611.7,300.4 L614.0,305.7 L616.3,307.2 L618.6,306.5 L620.9,306.5 L622.4,308.8"/>
<path fill="none" stroke="#6eff6e" stroke-width="2.1" stroke-linecap="round" d="M557.2,308.3h0M557.5,309.1h0M563.8,311.3h0M564.1,310.0h0M565.9,302.7h0M566.2,302.7h0M571.0,307.5h0M565.9,302.5h0M564.6,303.5h0M568.9,298.6h0M569.0,298.6h0M573.6,303.5h0M567.2,302.0h0M570.8,296.8h0M574.7,301.4h0M576.0,294.6h0M574.3,301.3h0M575.9,301.8h0M581.6,299.4h0M575.7,297.2h0M583.1,295.9h0M576.1,292.7h0M579.0,297.1h0M579.1,297.6h0M578.3,295.3h0M586.7,298.2h0M585.3,296.9h0M586.2,298.3h0M579.5,299.2h0M579.4,300.3h0M586.5,298.6h0M579.7,307.5h0M580.8,306.3h0M581.7,310.0h0M581.2,308.3h0M580.8,307.0h0M582.7,316.7h0M583.6,317.8h0M583.6,317.2h0M588.4,311.4h0M582.9,314.7h0M584.0,321.9h0M590.0,317.4h0M583.0,319.3h0M591.1,319.8h0M586.4,325.4h0M591.5,319.7h0M586.6,319.9h0M594.0,319.8h0M586.7,320.2h0M586.9,321.1h0M589.2,314.9h0M597.3,315.2h0M588.6,316.0h0M589.0,314.7h0M598.2,309.4h0M591.1,307.0h0M591.9,308.5h0M591.1,308.4h0M590.9,311.4h0M593.1,305.2h0M601.0,304.5h0M594.2,300.4h0M593.8,303.1h0M600.6,305.2h0M602.8,300.1h0M595.5,296.6h0M595.9,296.3h0M603.8,298.4h0M598.0,292.7h0M598.4,293.7h0M601.6,289.9h0M605.7,296.7h0M604.6,297.5h0M608.7,292.7h0M608.9,293.4h0M605.5,298.8h0M614.0,298.5h0M607.5,299.8h0M614.0,298.3h0M615.4,298.9h0M611.2,306.8h0M609.9,305.2h0M608.9,303.6h0M617.5,302.6h0M617.4,304.1h0M613.2,308.8h0M616.9,302.9h0M617.3,303.6h0M619.8,302.0h0M620.5,303.4h0M624.9,307.1h0M619.8,310.4h0"/>
<path class="h" stroke="#ff6a6a" stroke-width="7.2" d="M113.5,265.3 L116.1,273.6 L118.4,281.2 L120.6,287.3 L122.9,285.8 L125.2,283.5 L127.5,285.0 L129.8,284.3 L132.0,281.2 L134.7,270.3 L136.7,263.2 L138.8,259.2 L140.3,258.2 L141.8,249.1 L143.8,244.6 L146.8,249.3 L149.3,257.4 L151.8,266.5 L152.9,269.3 L154.4,264.5 L156.9,255.4 L159.2,248.8 L160.9,253.4 L162.9,257.9 L165.5,252.4 L168.0,247.3 L171.0,244.8 L173.5,246.8 L176.6,252.4 L178.1,254.4 L180.6,251.9 L183.7,249.8 L186.2,253.4 L188.7,258.4 L190.6,261.5 L192.3,255.5 L194.1,251.2 L197.6,247.7 L200.6,252.2 L203.6,259.3 L206.2,262.8 L209.7,264.3 L212.7,266.4 L214.7,259.3 L216.8,252.2 L218.8,251.2 L220.1,254.3 L222.3,250.7 L224.8,254.3 L227.8,257.3 L228.0,257.0"/>
<path fill="none" stroke="#ff6a6a" stroke-width="2.1" stroke-linecap="round" d="M111.0,267.2h0M112.6,271.7h0M118.2,270.1h0M116.8,265.4h0M116.9,266.2h0M112.3,270.8h0M111.6,268.3h0M114.5,277.3h0M120.7,278.0h0M118.9,273.6h0M114.3,276.9h0M121.2,277.5h0M114.9,279.2h0M116.3,283.3h0M116.4,285.6h0M117.0,285.6h0M121.5,280.6h0M116.4,286.3h0M120.5,283.6h0M123.7,288.9h0M121.4,282.8h0M127.2,285.6h0M123.9,285.8h0M125.0,286.5h0M128.4,287.5h0M130.3,288.2h0M129.1,280.7h0M132.8,284.5h0M129.4,280.0h0M132.0,270.5h0M129.3,276.2h0M129.6,275.7h0M134.6,281.7h0M129.9,277.7h0M128.9,280.0h0M136.6,273.7h0M136.5,275.4h0M131.9,270.2h0M132.7,266.9h0M138.8,268.0h0M133.6,264.0h0M134.2,262.6h0M138.4,267.1h0M137.7,269.9h0M136.2,258.3h0M135.5,258.1h0M135.9,258.5h0M137.6,256.9h0M143.0,257.9h0M144.7,251.7h0M139.0,248.7h0M144.8,249.7h0M137.4,254.7h0M143.7,253.9h0M143.5,255.1h0M137.8,256.9h0M139.5,246.1h0M145.9,249.7h0M140.4,245.7h0M141.1,244.3h0M147.3,244.5h0M142.8,249.3h0M141.2,247.2h0M142.8,248.9h0M151.3,254.3h0M145.2,254.2h0M145.9,255.9h0M143.3,251.1h0M144.3,250.3h0M151.0,254.0h0M152.0,255.2h0M148.7,265.5h0M148.1,265.6h0M153.5,262.9h0M152.7,259.4h0M147.9,264.1h0M149.1,266.8h0M153.2,260.9h0M152.2,258.0h0M149.7,268.5h0M155.1,267.7h0M157.1,265.8h0M156.6,267.2h0M151.2,264.3h0M150.2,267.5h0M159.9,259.2h0M158.7,258.5h0M152.3,262.4h0M152.8,255.4h0M158.8,262.4h0M160.1,256.5h0M151.4,262.7h0M155.3,248.3h0M155.3,252.0h0M155.7,250.8h0M159.7,255.4h0M155.7,249.2h0M162.6,249.3h0M156.7,249.8h0M162.3,249.7h0M163.3,250.9h0M164.9,253.6h0M158.1,256.5h0M166.0,256.0h0M160.0,258.7h0M162.0,253.0h0M167.7,256.3h0M160.8,256.0h0M168.2,255.1h0M161.9,250.8h0M165.1,246.3h0M169.6,250.7h0M170.4,248.7h0M168.4,253.7h0M165.3,246.8h0M167.2,243.8h0M172.5,247.2h0M166.1,244.3h0M175.4,244.3h0M173.1,243.0h0M179.3,249.3h0M171.0,248.8h0M178.4,250.2h0M177.0,246.2h0M172.3,251.1h0M175.6,256.2h0M180.9,252.0h0M181.6,254.9h0M177.5,250.9h0M180.0,248.5h0M184.5,253.2h0M180.9,248.5h0M186.4,249.1h0M183.8,254.5h0M187.6,250.2h0M185.2,257.2h0M184.8,256.5h0M190.8,254.1h0M191.7,256.2h0M187.5,261.4h0M186.0,261.1h0M188.2,262.7h0M188.6,259.0h0M194.9,256.8h0M194.1,259.2h0M188.2,257.4h0M194.7,257.7h0M190.7,252.6h0M190.3,251.7h0M189.9,252.7h0M196.5,252.7h0M197.7,252.7h0M194.0,247.4h0M194.3,246.4h0M201.9,249.4h0M196.1,252.3h0M195.6,249.5h0M195.7,250.5h0M204.5,252.5h0M204.5,254.4h0M204.7,254.7h0M205.8,256.6h0M206.4,257.9h0M204.4,253.0h0M206.1,258.0h0M209.3,260.3h0M209.0,260.7h0M208.9,260.3h0M209.4,261.1h0M209.4,260.8h0M212.8,263.3h0M212.3,261.5h0M212.6,262.2h0M217.7,260.3h0M217.6,262.3h0M217.6,260.5h0M216.7,263.4h0M217.2,263.1h0M214.0,252.5h0M212.8,253.4h0M219.4,253.8h0M213.7,252.0h0M213.9,252.8h0M216.0,249.6h0M219.7,253.8h0M221.6,250.4h0M221.5,250.5h0M222.3,252.8h0M217.8,252.5h0M217.6,251.7h0M223.8,255.2h0M226.6,250.7h0M219.5,253.5h0M224.6,249.5h0M223.4,257.5h0M226.7,252.5h0M224.7,259.4h0M224.9,254.9h0"/>
<path class="h" stroke="#ff6a6a" stroke-width="9" d="M228.0,257.0 L231.4,252.7 L233.4,256.3 L236.4,259.3 L239.5,261.8 L242.5,263.3 L246.5,263.8 L249.5,265.9 L252.1,267.4 L255.6,264.3 L258.6,261.3 L262.7,258.8 L264.0,259.2"/>
<path fill="none" stroke="#ff6a6a" stroke-width="2.1" stroke-linecap="round" d="M233.2,258.2h0M232.5,258.7h0M227.5,251.6h0M227.4,251.5h0M235.9,252.6h0M229.4,256.4h0M236.4,253.6h0M228.4,254.9h0M232.3,260.3h0M233.2,261.5h0M237.1,255.0h0M231.6,260.2h0M233.6,263.0h0M235.1,263.9h0M240.3,256.8h0M242.5,259.1h0M237.6,266.5h0M240.2,267.4h0M244.5,267.1h0M245.5,267.6h0M243.3,267.0h0M251.2,262.4h0M245.8,267.8h0M244.7,267.6h0M248.1,271.0h0M253.6,263.6h0M252.3,261.7h0M256.5,270.1h0M249.5,263.3h0M257.6,269.0h0M260.4,265.2h0M254.3,260.6h0M259.5,265.5h0M260.1,265.5h0M263.5,264.2h0M258.4,256.9h0M259.3,256.7h0M259.9,255.0h0M261.7,263.5h0"/>
<path class="h" stroke="#ff6a6a" stroke-width="10.5" d="M264.0,258.8 L267.0,262.8 L270.1,264.9 L273.1,269.9 L276.1,275.0 L278.1,273.4 L281.2,276.0 L284.2,273.4 L287.2,271.4 L289.2,275.0 L292.2,274.4 L295.3,271.4 L298.3,269.4 L301.3,270.4 L302.8,269.9 L304.4,275.0 L307.4,278.5 L310.4,277.5 L313.4,275.0 L316.5,274.4 L319.0,276.0 L321.5,279.0 L324.5,280.6 L327.1,288.7 L329.1,297.8 L331.1,303.8 L333.1,307.8 L335.1,309.9 L337.7,316.9 L339.7,318.4 L341.7,320.0 L343.7,316.4 L345.7,321.0 L348.2,326.0 L350.3,329.5 L352.3,327.0 L354.8,323.0 L356.3,329.0 L357.8,334.1 L358.1,332.7 L360.6,337.8 L362.6,341.8 L364.6,346.9 L367.1,345.3 L370.2,346.4 L373.2,344.8 L376.2,345.3 L378.7,342.8 L382.3,344.3 L386.3,344.3 L389.8,343.8 L391.8,346.1 L393.9,344.3 L395.0,347.6 L396.2,350.0 L398.4,353.8 L400.7,356.1 L402.2,353.8 L404.5,357.6 L406.8,361.4 L409.8,364.4 L412.9,366.0 L415.2,369.0 L417.4,371.3 L419.7,374.3 L420.0,375.1"/>
<path fill="none" stroke="#ff6a6a" stroke-width="2.1" stroke-linecap="round" d="M267.7,256.5h0M261.7,263.6h0M262.5,264.0h0M269.2,257.3h0M265.5,267.1h0M269.8,258.9h0M264.4,266.7h0M276.8,266.2h0M266.0,270.4h0M266.3,267.8h0M265.7,267.8h0M271.2,275.2h0M278.5,270.6h0M280.0,270.5h0M270.8,274.9h0M269.7,274.5h0M280.2,278.1h0M280.5,277.1h0M275.5,278.5h0M282.9,271.2h0M281.3,270.1h0M279.5,270.0h0M285.8,277.9h0M280.3,270.6h0M288.2,276.7h0M288.1,277.0h0M288.3,276.0h0M293.2,272.4h0M293.3,272.4h0M283.1,275.6h0M290.1,279.3h0M290.2,269.4h0M298.8,276.2h0M298.4,276.0h0M290.1,267.8h0M290.7,269.3h0M293.0,265.5h0M293.9,267.2h0M299.8,273.5h0M297.4,273.7h0M297.1,273.5h0M297.2,275.5h0M304.0,274.0h0M307.7,271.1h0M298.7,275.0h0M307.2,269.5h0M308.6,268.8h0M311.2,273.6h0M302.4,279.4h0M309.8,273.9h0M301.5,278.7h0M311.7,281.6h0M306.8,273.3h0M309.2,270.9h0M314.6,281.9h0M310.0,272.1h0M314.8,268.4h0M313.7,270.4h0M315.2,278.8h0M320.9,270.3h0M324.4,272.9h0M316.3,279.5h0M316.5,281.4h0M320.9,285.6h0M325.9,274.4h0M324.0,275.4h0M322.3,287.7h0M330.5,280.0h0M320.3,284.7h0M321.6,286.3h0M321.3,290.3h0M331.2,285.9h0M321.6,286.8h0M332.5,292.1h0M333.2,293.3h0M332.3,292.6h0M334.1,295.8h0M332.0,291.4h0M332.7,294.2h0M332.5,292.0h0M326.8,304.6h0M334.4,299.6h0M325.0,299.8h0M335.6,299.5h0M333.3,296.4h0M328.4,309.4h0M337.3,305.5h0M336.8,301.9h0M330.1,310.9h0M330.6,313.1h0M340.5,309.9h0M340.0,308.8h0M331.0,312.5h0M342.3,314.1h0M341.2,312.9h0M331.2,313.8h0M336.6,321.8h0M337.1,324.1h0M343.3,315.3h0M339.1,314.3h0M337.9,316.5h0M338.5,316.3h0M340.0,318.5h0M340.9,320.7h0M339.5,319.7h0M339.8,318.2h0M352.2,319.9h0M341.2,323.3h0M351.3,321.2h0M343.4,327.1h0M352.5,324.5h0M346.3,331.7h0M354.0,326.1h0M355.3,330.5h0M355.6,329.7h0M357.3,327.7h0M357.6,328.8h0M356.9,329.4h0M357.7,329.5h0M351.4,327.1h0M349.7,326.0h0M359.2,322.3h0M351.0,327.9h0M361.5,326.0h0M351.1,332.3h0M352.9,335.0h0M352.4,333.2h0M360.9,328.5h0M362.2,333.9h0M354.1,335.0h0M355.1,338.6h0M363.9,334.8h0M355.1,336.9h0M365.9,334.6h0M358.0,343.3h0M364.6,335.9h0M366.4,335.9h0M365.5,336.8h0M359.0,345.1h0M358.5,345.8h0M367.8,343.0h0M367.8,339.9h0M368.1,343.9h0M367.9,351.6h0M368.9,351.4h0M366.9,350.7h0M366.2,349.7h0M367.4,349.9h0M370.8,341.2h0M368.7,342.4h0M368.0,340.8h0M375.3,339.8h0M376.3,340.7h0M382.3,346.9h0M382.4,346.9h0M381.7,345.9h0M379.7,349.0h0M378.5,348.0h0M379.2,349.2h0M384.0,349.3h0M384.5,349.0h0M382.9,349.9h0M388.7,339.7h0M385.9,339.2h0M386.9,347.8h0M386.9,346.9h0M389.4,341.5h0M388.7,341.8h0M400.2,345.2h0M398.8,345.1h0M401.5,346.6h0M400.2,347.4h0M400.5,348.6h0M394.6,355.7h0M393.2,356.5h0M400.7,348.8h0M396.5,358.4h0M397.5,359.3h0M396.5,357.9h0M396.3,351.8h0M406.5,357.8h0M406.6,356.7h0M397.9,357.6h0M398.2,358.2h0M407.9,355.0h0M411.0,357.7h0M402.3,362.2h0M401.9,361.7h0M411.5,359.9h0M412.5,359.8h0M404.7,366.0h0M412.7,360.7h0M413.4,359.7h0M410.0,369.8h0M410.1,372.8h0M418.6,364.0h0M409.6,370.4h0M420.2,366.9h0M419.4,367.0h0M421.4,368.9h0M422.3,370.6h0M422.1,370.2h0M424.0,373.1h0"/>
<path class="h" stroke="#ff6a6a" stroke-width="9.5" d="M420.0,375.3 L422.0,380.6 L424.3,386.7 L427.3,389.7 L429.6,388.2 L432.6,385.9 L434.5,379.8 L436.4,374.5 L438.7,376.0 L441.0,377.6 L443.3,379.1 L445.6,378.3 L447.8,382.1 L450.1,380.6 L452.0,376.8 L454.2,379.1 L457.0,379.8 L460.0,379.1 L463.0,374.5 L465.3,375.3 L467.6,379.1 L469.9,379.8 L472.2,379.8 L474.4,374.5 L476.7,370.7 L479.8,368.4 L482.8,364.6 L485.1,361.6 L487.4,360.8 L489.6,362.4 L492.7,365.4 L495.0,368.4 L497.2,360.1 L499.5,357.8 L500.0,356.7"/>
<path fill="none" stroke="#ff6a6a" stroke-width="2.1" stroke-linecap="round" d="M424.8,374.9h0M425.0,377.1h0M416.6,377.5h0M415.5,379.0h0M417.9,383.3h0M418.7,383.1h0M428.2,382.2h0M418.9,384.0h0M419.6,387.7h0M423.5,391.9h0M421.3,390.2h0M422.7,392.6h0M425.5,386.2h0M426.1,385.3h0M427.1,384.2h0M434.5,389.2h0M428.4,384.0h0M428.8,384.6h0M429.7,380.7h0M427.9,383.4h0M429.1,378.5h0M429.1,382.9h0M431.4,374.5h0M441.3,376.6h0M430.2,376.7h0M430.4,377.8h0M438.9,380.0h0M436.5,379.3h0M439.7,371.7h0M442.8,374.0h0M441.6,373.4h0M445.2,374.5h0M444.7,375.4h0M442.9,374.3h0M443.2,375.1h0M449.8,378.1h0M449.9,378.2h0M452.0,378.5h0M445.1,377.9h0M447.3,376.7h0M452.7,385.5h0M447.7,375.4h0M446.4,378.4h0M448.1,375.1h0M447.3,374.9h0M455.6,374.6h0M457.9,374.8h0M449.8,380.3h0M456.1,375.3h0M456.1,375.0h0M456.1,375.0h0M459.9,383.4h0M464.4,379.6h0M465.7,379.0h0M456.6,375.4h0M457.1,375.5h0M462.7,380.3h0M462.7,380.0h0M469.7,375.0h0M461.9,379.8h0M470.4,376.0h0M466.9,382.9h0M468.1,383.3h0M470.7,385.0h0M471.9,375.5h0M468.0,377.5h0M477.5,379.0h0M469.3,375.9h0M475.9,380.6h0M469.2,376.6h0M480.4,375.1h0M472.5,370.3h0M479.5,373.5h0M477.8,376.4h0M482.6,372.7h0M481.0,372.4h0M474.3,366.5h0M485.0,368.0h0M485.2,367.9h0M485.5,367.9h0M488.0,364.8h0M488.6,365.2h0M488.4,364.4h0M486.1,357.2h0M486.3,364.8h0M491.0,358.6h0M489.7,368.0h0M493.1,359.3h0M494.9,361.8h0M497.3,364.1h0M498.0,365.5h0M491.2,369.9h0M498.9,369.2h0M491.7,365.5h0M500.8,366.2h0M500.0,364.2h0M491.1,362.6h0M500.9,363.9h0M501.8,360.9h0M496.0,355.1h0M503.4,358.4h0"/>
<path class="h" stroke="#ff6a6a" stroke-width="6.8" d="M500.0,356.9 L500.2,356.5 L504.2,355.0 L508.2,352.5 L512.3,348.4 L515.3,344.4 L517.3,342.4 L520.4,341.9 L523.4,339.3 L526.4,336.8 L529.4,334.3 L532.5,333.8 L534.5,330.3 L536.5,325.2 L538.5,323.7 L541.5,324.7 L544.6,322.7 L547.1,318.2 L549.6,312.1 L552.1,307.6 L554.7,309.6 L557.7,309.1 L560.0,307.1"/>
<path fill="none" stroke="#ff6a6a" stroke-width="2.1" stroke-linecap="round" d="M497.8,355.4h0M499.2,353.2h0M499.1,353.4h0M502.9,352.7h0M502.9,352.1h0M506.1,357.4h0M503.2,352.8h0M507.8,348.0h0M508.1,349.1h0M510.0,346.5h0M514.6,351.2h0M510.8,346.1h0M510.7,346.1h0M512.7,342.7h0M517.6,346.4h0M519.0,345.0h0M514.7,340.2h0M520.0,339.5h0M518.7,344.6h0M524.5,342.4h0M522.9,343.1h0M522.0,343.7h0M528.1,340.1h0M525.4,340.8h0M527.3,340.1h0M530.4,336.6h0M525.5,334.4h0M528.7,339.4h0M530.1,330.9h0M529.3,331.6h0M531.3,331.0h0M535.0,334.5h0M530.5,331.7h0M532.4,328.9h0M538.5,326.9h0M532.8,327.4h0M533.2,325.8h0M532.6,328.4h0M539.0,326.4h0M538.3,326.9h0M541.4,322.2h0M541.2,322.0h0M544.7,326.8h0M540.1,322.0h0M549.3,319.9h0M542.3,319.8h0M543.6,316.9h0M549.0,320.5h0M552.0,313.8h0M550.4,318.5h0M551.4,316.4h0M551.0,317.3h0M550.4,317.6h0M549.6,307.1h0M549.1,308.0h0M554.0,309.8h0M547.2,310.6h0M555.2,306.3h0M556.1,307.2h0M552.9,311.4h0M556.7,312.7h0M557.3,312.9h0M557.1,305.9h0M559.6,310.7h0M556.9,306.6h0"/>
<path class="h" stroke="#ff6a6a" stroke-width="8.2" d="M560.0,307.1 L561.6,305.7 L563.8,303.4 L565.7,305.0 L567.6,308.0 L569.9,308.8 L572.2,308.0 L574.5,309.5 L576.8,313.3 L579.0,315.6 L581.3,318.6 L583.6,323.2 L585.9,327.0 L588.2,328.5 L590.4,329.3 L592.7,327.0 L595.0,324.0 L597.3,318.6 L599.6,315.6 L601.8,311.0 L604.1,307.2 L606.4,306.5 L608.7,308.8 L611.0,310.3 L613.2,313.3 L615.5,314.8 L617.8,314.1 L620.1,315.6 L622.4,314.1"/>
<path fill="none" stroke="#ff6a6a" stroke-width="2.1" stroke-linecap="round" d="M562.6,309.4h0M564.7,307.0h0M565.7,308.0h0M567.5,301.8h0M562.2,306.1h0M564.0,309.1h0M563.8,309.5h0M563.3,307.4h0M568.7,311.7h0M570.3,305.5h0M572.2,311.8h0M571.1,305.0h0M574.9,305.7h0M570.7,312.7h0M579.4,310.3h0M572.3,311.9h0M580.1,309.6h0M579.8,311.0h0M580.9,311.3h0M578.1,319.5h0M583.1,315.8h0M583.0,315.6h0M586.1,319.9h0M578.4,322.4h0M585.2,317.1h0M587.0,320.5h0M580.4,326.6h0M582.3,327.1h0M581.7,327.0h0M581.7,328.2h0M588.9,324.3h0M584.7,330.0h0M589.9,325.5h0M589.4,325.7h0M588.9,326.1h0M592.3,322.4h0M597.4,327.7h0M596.6,328.9h0M598.0,324.9h0M592.5,319.0h0M592.5,322.0h0M593.3,319.8h0M601.5,319.1h0M596.9,314.1h0M596.6,314.4h0M604.2,313.7h0M595.6,313.5h0M603.9,316.6h0M598.2,311.3h0M600.1,307.3h0M599.4,308.7h0M607.0,309.3h0M604.7,303.1h0M605.7,310.7h0M611.0,306.5h0M605.7,310.9h0M612.7,307.3h0M608.4,312.3h0M616.0,310.2h0M610.4,314.9h0M611.5,316.0h0M617.4,310.8h0M616.0,310.5h0M618.2,317.9h0M617.9,317.9h0M621.3,311.0h0M617.0,318.1h0M622.3,317.9h0M619.1,312.5h0"/>
<path class="h" stroke="#9090ff" stroke-width="2.6" d="M620.4,215 L620.7,257"/>
<path class="h" stroke="#7070ff" stroke-width="4" d="M565,232 L565.5,241 M568.8,249 L568.8,254"/>
<path class="h" stroke="#7070ff" stroke-width="5" d="M134.5,124.5 L137.2,121.5 L139.7,120 L142.3,117.2 L144.8,113.6 L146.8,111.6 L150.3,110.6 L153.2,110.2 M171.8,130.5 L173.5,126.8 L175.6,123.8 L177.6,122 L179.2,122.2"/>
<path class="h" stroke="#6eff6e" stroke-width="3.5" d="M580.8,287.5 L580.8,293"/>
<path class="h" stroke="#8080ff" stroke-width="2.6" d="M194.2,165 L194.25,175 M200,171 L200.1,177 M220.5,146.5 L220.5,151 M212.9,224 L213,229 M196.4,192 L196.4,199 M189.2,212 L189.3,216"/>
<path class="l" stroke="#00f000" d="M113.5,238.7 L115.3,252.4 L117.6,264.5 L119.9,273.6 L122.2,278.2 L124.4,276.7 L126.4,278.2 L128.2,275.0 L130.5,272.5 L132.2,269.5 L134.2,260.0 L136.2,250.4 L139.2,235.2 L142.3,223.1 L144.3,219.6 L145.8,227.2 L146.8,230.2 L148.8,225.1 L150.8,231.2 L152.4,234.2 L154.4,229.2 L156.4,235.2 L157.9,238.2 L159.4,235.2 L161.4,243.3 L163.5,250.9 L165.5,246.3 L168.5,239.3 L171.5,234.2 L173.5,232.7 L176.1,230.7 L177.6,236.2 L179.1,242.3 L181.6,243.8 L184.1,244.8 L186.6,247.3 L189.2,252.4 L190.7,254.9 L192.9,241.7 L195.1,235.6 L197.4,232.6 L199.1,231.0 L200.6,236.0 L202.1,241.1 L204.6,250.2 L207.2,256.3 L209.7,257.8 L212.7,259.3 L214.7,252.2 L217.3,246.7 L220.3,245.2 L222.8,242.2 L225.3,249.2 L227.8,254.3 L231.4,247.7 L233.4,252.2 L236.4,255.8 L239.5,258.3 L242.5,261.8 L246.5,263.8 L249.5,266.4 L252.6,269.4 L255.6,266.4 L258.6,262.8 L262.7,259.8 L264.0,262.2 L267.0,266.3 L270.1,269.8 L273.1,275.4 L275.6,278.9 L278.1,277.9 L281.7,280.4 L284.2,278.4 L286.7,275.9 L289.2,279.4 L292.2,278.9 L295.3,276.4 L297.8,274.3 L301.3,274.8 L303.3,275.4 L304.9,279.4 L307.9,282.4 L310.9,281.4 L313.4,279.9 L316.5,279.4 L319.0,281.4 L320.0,283.0 L323.0,288.1 L325.5,294.1 L327.6,300.2 L329.6,306.2 L331.6,311.3 L333.6,315.3 L336.1,320.4 L338.2,323.4 L340.2,322.9 L342.2,324.9 L344.2,323.4 L346.2,327.9 L348.8,332.5 L350.8,335.0 L352.8,333.0 L354.8,329.9 L356.3,335.0 L357.8,339.5 L359.6,345.2 L362.1,349.3 L364.6,355.8 L367.1,352.3 L370.2,353.3 L373.2,351.3 L376.2,352.8 L379.2,350.3 L382.3,352.3 L386.3,353.3 L390.3,352.8 L392.9,355.8 L394.9,354.3 L396.9,361.8 L399.2,364.8 L401.5,362.6 L403.0,364.8 L405.3,367.1 L407.6,370.2 L410.6,373.2 L413.6,374.7 L415.9,378.5 L418.2,382.3 L420.5,386.9 L422.8,393.0 L425.0,396.0 L427.3,396.8 L429.6,395.3 L432.6,393.0 L434.5,386.9 L436.4,380.8 L438.7,382.3 L441.0,383.9 L443.3,386.1 L445.6,384.6 L447.8,387.7 L450.1,386.1 L452.0,383.9 L454.2,385.4 L457.0,386.1 L460.0,385.4 L463.0,381.6 L465.3,381.6 L467.6,385.4 L469.9,386.9 L472.2,386.9 L474.4,382.3 L476.7,378.5 L479.8,375.5 L482.8,370.9 L485.1,368.6 L487.4,367.9 L489.6,369.4 L492.7,372.4 L495.0,376.2 L497.2,365.6 L499.5,363.3 L501.8,363.3 L504.1,361.8 L506.4,360.3 L509.3,359.5 L512.3,353.5 L515.3,347.4 L517.3,343.4 L520.4,342.4 L523.4,340.4 L526.4,337.8 L529.4,335.3 L532.5,334.8 L535.0,332.3 L537.5,329.3 L540.5,329.8 L543.6,329.3 L546.6,326.2 L549.1,320.2 L551.6,314.1 L554.7,313.1 L557.7,314.1 L560.0,311.1 L563.1,307.2 L565.4,306.5 L567.6,306.5 L569.9,304.2 L572.2,299.6 L574.5,297.4 L576.8,298.1 L578.3,298.9 L579.8,295.5 L580.8,293.0 L582.1,297.0 L583.6,305.0 L585.1,311.0 L586.7,317.1 L588.2,321.7 L589.4,323.2 L591.2,318.6 L593.5,313.3 L595.8,306.5 L598.1,301.2 L600.3,296.6 L602.6,294.3 L604.9,293.6 L607.2,295.8 L609.5,297.4 L611.7,300.4 L614.0,305.7 L616.3,307.2 L618.6,306.5 L620.9,306.5 L622.4,308.8"/>
<path class="l" stroke="#ff0000" d="M113.5,265.3 L116.1,273.6 L118.4,281.2 L120.6,287.3 L122.9,285.8 L125.2,283.5 L127.5,285.0 L129.8,284.3 L132.0,281.2 L134.7,270.3 L136.7,263.2 L138.8,259.2 L140.3,258.2 L141.8,249.1 L143.8,244.6 L146.8,249.3 L149.3,257.4 L151.8,266.5 L152.9,269.3 L154.4,264.5 L156.9,255.4 L159.2,248.8 L160.9,253.4 L162.9,257.9 L165.5,252.4 L168.0,247.3 L171.0,244.8 L173.5,246.8 L176.6,252.4 L178.1,254.4 L180.6,251.9 L183.7,249.8 L186.2,253.4 L188.7,258.4 L190.6,261.5 L192.3,255.5 L194.1,251.2 L197.6,247.7 L200.6,252.2 L203.6,259.3 L206.2,262.8 L209.7,264.3 L212.7,266.4 L214.7,259.3 L216.8,252.2 L218.8,251.2 L220.1,254.3 L222.3,250.7 L224.8,254.3 L227.8,257.3 L231.4,252.7 L233.4,256.3 L236.4,259.3 L239.5,261.8 L242.5,263.3 L246.5,263.8 L249.5,265.9 L252.1,267.4 L255.6,264.3 L258.6,261.3 L262.7,258.8 L264.0,259.2 L267.0,263.2 L270.1,265.3 L273.1,270.3 L276.1,275.4 L278.1,273.8 L281.2,276.4 L284.2,273.8 L287.2,271.8 L289.2,275.4 L292.2,274.8 L295.3,271.8 L298.3,269.8 L301.3,270.8 L302.8,270.3 L304.4,275.4 L307.4,278.9 L310.4,277.9 L313.4,275.4 L316.5,274.8 L319.0,276.4 L321.5,279.4 L324.5,281.0 L327.1,289.1 L329.1,298.2 L331.1,304.2 L333.1,308.2 L335.1,310.3 L337.7,317.3 L339.7,318.8 L341.7,320.4 L343.7,316.8 L345.7,321.4 L348.2,326.4 L350.3,329.9 L352.3,327.4 L354.8,323.4 L356.3,329.4 L357.8,334.5 L358.1,333.1 L360.6,338.2 L362.6,342.2 L364.6,347.3 L367.1,345.7 L370.2,346.8 L373.2,345.2 L376.2,345.7 L378.7,343.2 L382.3,344.7 L386.3,344.7 L389.8,344.2 L391.8,346.5 L393.9,344.7 L395.0,348.0 L396.2,350.4 L398.4,354.2 L400.7,356.5 L402.2,354.2 L404.5,358.0 L406.8,361.8 L409.8,364.8 L412.9,366.4 L415.2,369.4 L417.4,371.7 L419.7,374.7 L422.0,380.8 L424.3,386.9 L427.3,389.9 L429.6,388.4 L432.6,386.1 L434.5,380.0 L436.4,374.7 L438.7,376.2 L441.0,377.8 L443.3,379.3 L445.6,378.5 L447.8,382.3 L450.1,380.8 L452.0,377.0 L454.2,379.3 L457.0,380.0 L460.0,379.3 L463.0,374.7 L465.3,375.5 L467.6,379.3 L469.9,380.0 L472.2,380.0 L474.4,374.7 L476.7,370.9 L479.8,368.6 L482.8,364.8 L485.1,361.8 L487.4,361.0 L489.6,362.6 L492.7,365.6 L495.0,368.6 L497.2,360.3 L499.5,358.0 L500.2,356.5 L504.2,355.0 L508.2,352.5 L512.3,348.4 L515.3,344.4 L517.3,342.4 L520.4,341.9 L523.4,339.3 L526.4,336.8 L529.4,334.3 L532.5,333.8 L534.5,330.3 L536.5,325.2 L538.5,323.7 L541.5,324.7 L544.6,322.7 L547.1,318.2 L549.6,312.1 L552.1,307.6 L554.7,309.6 L557.7,309.1 L560.0,307.1 L561.6,305.7 L563.8,303.4 L565.7,305.0 L567.6,308.0 L569.9,308.8 L572.2,308.0 L574.5,309.5 L576.8,313.3 L579.0,315.6 L581.3,318.6 L583.6,323.2 L585.9,327.0 L588.2,328.5 L590.4,329.3 L592.7,327.0 L595.0,324.0 L597.3,318.6 L599.6,315.6 L601.8,311.0 L604.1,307.2 L606.4,306.5 L608.7,308.8 L611.0,310.3 L613.2,313.3 L615.5,314.8 L617.8,314.1 L620.1,315.6 L622.4,314.1"/>
<path class="l" stroke="#0000ff" d="M113.4,111.0 L113.7,140.0 L114.4,165.0 L115.5,190.0 L117.0,216.0 L120.4,238.8 L122.5,248.0 L124.6,235.8 L127.4,220.6 L128.0,197.8 L128.4,175.0 L128.7,159.5 L129.7,148.4 L130.7,140.4 L131.7,134.3 L133.7,127.2 L137.2,123.0 L139.7,121.4 L142.3,118.7 L144.8,115.1 L146.8,113.1 L150.3,112.3 L153.4,112.1 L154.4,114.1 L155.2,120.2 L155.9,134.3 L156.4,147.4 L156.6,159.5 L156.8,175.0 L156.9,184.2 L157.9,193.3 L160.4,200.4 L162.9,216.5 L163.5,221.4 L164.3,213.0 L165.2,197.0 L166.0,184.2 L166.5,170.0 L166.8,159.5 L168.0,145.4 L169.5,138.3 L171.5,132.3 L173.5,128.2 L175.6,125.2 L177.6,123.7 L179.1,124.2 L180.1,129.3 L181.6,137.3 L183.1,143.4 L183.9,150.4 L184.6,160.0 L185.1,173.0 L185.6,184.2 L187.7,200.4 L189.1,211.5 L190.6,203.4 L192.0,196.1 L193.4,183.0 L194.2,174.8 L195.2,184.0 L196.5,191.5 L198.0,186.0 L200.1,177.3 L201.2,184.0 L202.1,190.0 L203.6,200.1 L205.2,208.7 L206.7,211.2 L208.2,219.3 L209.7,218.2 L211.0,212.7 L212.7,223.3 L214.0,210.2 L214.7,199.5 L216.2,180.4 L218.3,165.2 L220.5,151.1 L222.8,165.2 L224.2,178.0 L225.5,190.0 L226.8,197.0 L227.8,201.1 L229.6,194.0 L230.9,199.0 L232.4,210.2 L233.9,221.3 L235.4,229.3 L237.4,232.4 L239.5,237.4 L241.5,242.5 L244.5,244.5 L247.5,245.0 L249.5,246.5 L251.6,249.5 L253.6,247.5 L255.6,245.0 L258.6,244.5 L260.6,242.5 L262.2,239.4 L263.2,235.4 L264.0,242.1 L267.0,249.1 L270.1,251.1 L273.1,257.2 L276.1,261.2 L279.1,260.7 L282.7,262.7 L285.2,258.7 L287.7,261.2 L290.7,262.7 L293.8,261.2 L296.3,257.7 L299.3,257.7 L301.8,258.7 L303.3,257.2 L304.9,261.7 L308.4,264.8 L311.4,265.3 L314.4,264.3 L318.5,264.3 L321.5,268.3 L324.5,273.3 L327.6,279.0 L328.6,280.5 L331.1,290.1 L333.1,298.2 L336.1,301.7 L338.7,304.2 L341.7,309.8 L343.2,309.3 L344.7,304.2 L346.7,310.3 L348.8,316.3 L350.8,321.4 L352.8,318.8 L354.8,313.8 L356.3,319.3 L358.3,324.4 L360.4,329.4 L362.9,332.5 L364.2,336.0 L365.4,339.4 L367.4,337.9 L369.7,335.6 L372.0,338.7 L374.2,336.4 L376.5,338.7 L378.8,335.6 L381.1,338.7 L383.4,337.2 L384.0,339.0 L387.0,339.5 L390.1,340.5 L392.4,339.8 L394.6,340.5 L396.9,346.6 L399.2,350.4 L401.5,351.2 L403.8,354.2 L406.8,357.2 L409.8,360.3 L412.9,361.8 L415.2,364.1 L417.4,367.1 L419.7,369.4 L422.0,372.4 L424.3,378.5 L427.3,383.3 L429.6,381.5 L432.6,379.3 L434.5,373.2 L436.4,367.9 L438.7,369.4 L441.0,371.7 L443.3,373.2 L445.6,372.4 L447.8,375.5 L450.1,375.5 L452.0,370.9 L454.2,373.2 L457.0,374.0 L460.0,373.2 L463.0,368.6 L465.3,370.2 L467.6,372.4 L469.9,372.4 L472.2,373.2 L474.4,367.1 L476.7,364.1 L479.8,362.6 L482.8,358.0 L485.1,355.7 L487.4,355.0 L489.6,356.5 L492.7,357.2 L495.0,360.3 L497.7,351.4 L501.2,349.4 L504.2,346.9 L507.2,344.4 L510.3,338.3 L513.3,332.3 L515.8,327.2 L518.3,321.7 L521.4,320.2 L524.4,316.1 L526.4,312.1 L527.9,309.1 L529.9,315.1 L532.5,310.1 L535.5,309.6 L538.5,312.1 L541.0,308.6 L544.6,309.1 L547.1,308.6 L549.1,304.0 L550.6,300.0 L552.4,297.4 L554.7,294.3 L557.0,290.5 L558.5,285.2 L558.8,277.6 L559.0,270.0 L560.2,260.0 L561.1,259.3 L562.6,255.3 L564.2,248.2 L565.7,241.7 L567.2,242.2 L568.7,249.2 L570.2,242.2 L571.2,232.1 L572.2,222.0 L572.8,216.5 L574.2,211.0 L575.7,215.6 L577.2,214.1 L579.2,208.8 L581.4,207.2 L583.7,205.0 L586.0,200.4 L588.3,199.6 L589.8,192.8 L592.1,190.5 L593.6,192.8 L595.1,186.7 L596.3,188.2 L597.4,197.4 L598.9,191.3 L600.8,188.2 L602.7,189.8 L604.2,192.8 L605.8,203.4 L607.3,215.6 L608.8,226.2 L609.6,229.3 L610.3,215.6 L611.4,205.0 L612.6,212.6 L613.7,224.7 L614.6,232.3 L616.0,226.2 L617.5,218.6 L618.7,212.6 L619.5,214.1"/>
</g>
<line class="tk" x1="113.40" x2="113.40" y1="481.4" y2="487.4"/>
<line class="tk" x1="113.40" x2="113.40" y1="84.80" y2="78.80"/>
<line class="tk" x1="134.66" x2="134.66" y1="481.4" y2="484.4"/>
<line class="tk" x1="134.66" x2="134.66" y1="84.80" y2="81.80"/>
<line class="tk" x1="155.92" x2="155.92" y1="481.4" y2="484.4"/>
<line class="tk" x1="155.92" x2="155.92" y1="84.80" y2="81.80"/>
<line class="tk" x1="177.18" x2="177.18" y1="481.4" y2="484.4"/>
<line class="tk" x1="177.18" x2="177.18" y1="84.80" y2="81.80"/>
<line class="tk" x1="198.43" x2="198.43" y1="481.4" y2="484.4"/>
<line class="tk" x1="198.43" x2="198.43" y1="84.80" y2="81.80"/>
<line class="tk" x1="219.69" x2="219.69" y1="481.4" y2="484.4"/>
<line class="tk" x1="219.69" x2="219.69" y1="84.80" y2="81.80"/>
<line class="tk" x1="240.95" x2="240.95" y1="481.4" y2="487.4"/>
<line class="tk" x1="240.95" x2="240.95" y1="84.80" y2="78.80"/>
<line class="tk" x1="262.21" x2="262.21" y1="481.4" y2="484.4"/>
<line class="tk" x1="262.21" x2="262.21" y1="84.80" y2="81.80"/>
<line class="tk" x1="283.47" x2="283.47" y1="481.4" y2="484.4"/>
<line class="tk" x1="283.47" x2="283.47" y1="84.80" y2="81.80"/>
<line class="tk" x1="304.73" x2="304.73" y1="481.4" y2="484.4"/>
<line class="tk" x1="304.73" x2="304.73" y1="84.80" y2="81.80"/>
<line class="tk" x1="325.98" x2="325.98" y1="481.4" y2="484.4"/>
<line class="tk" x1="325.98" x2="325.98" y1="84.80" y2="81.80"/>
<line class="tk" x1="347.24" x2="347.24" y1="481.4" y2="484.4"/>
<line class="tk" x1="347.24" x2="347.24" y1="84.80" y2="81.80"/>
<line class="tk" x1="368.50" x2="368.50" y1="481.4" y2="487.4"/>
<line class="tk" x1="368.50" x2="368.50" y1="84.80" y2="78.80"/>
<line class="tk" x1="389.76" x2="389.76" y1="481.4" y2="484.4"/>
<line class="tk" x1="389.76" x2="389.76" y1="84.80" y2="81.80"/>
<line class="tk" x1="411.02" x2="411.02" y1="481.4" y2="484.4"/>
<line class="tk" x1="411.02" x2="411.02" y1="84.80" y2="81.80"/>
<line class="tk" x1="432.27" x2="432.27" y1="481.4" y2="484.4"/>
<line class="tk" x1="432.27" x2="432.27" y1="84.80" y2="81.80"/>
<line class="tk" x1="453.53" x2="453.53" y1="481.4" y2="484.4"/>
<line class="tk" x1="453.53" x2="453.53" y1="84.80" y2="81.80"/>
<line class="tk" x1="474.79" x2="474.79" y1="481.4" y2="484.4"/>
<line class="tk" x1="474.79" x2="474.79" y1="84.80" y2="81.80"/>
<line class="tk" x1="496.05" x2="496.05" y1="481.4" y2="487.4"/>
<line class="tk" x1="496.05" x2="496.05" y1="84.80" y2="78.80"/>
<line class="tk" x1="517.31" x2="517.31" y1="481.4" y2="484.4"/>
<line class="tk" x1="517.31" x2="517.31" y1="84.80" y2="81.80"/>
<line class="tk" x1="538.57" x2="538.57" y1="481.4" y2="484.4"/>
<line class="tk" x1="538.57" x2="538.57" y1="84.80" y2="81.80"/>
<line class="tk" x1="559.83" x2="559.83" y1="481.4" y2="484.4"/>
<line class="tk" x1="559.83" x2="559.83" y1="84.80" y2="81.80"/>
<line class="tk" x1="581.08" x2="581.08" y1="481.4" y2="484.4"/>
<line class="tk" x1="581.08" x2="581.08" y1="84.80" y2="81.80"/>
<line class="tk" x1="602.34" x2="602.34" y1="481.4" y2="484.4"/>
<line class="tk" x1="602.34" x2="602.34" y1="84.80" y2="81.80"/>
<line class="tk" x1="113.4" x2="107.4" y1="481.40" y2="481.40"/>
<line class="tk" x1="623.60" x2="629.60" y1="481.40" y2="481.40"/>
<line class="tk" x1="113.4" x2="110.4" y1="431.82" y2="431.82"/>
<line class="tk" x1="623.60" x2="626.60" y1="431.82" y2="431.82"/>
<line class="tk" x1="113.4" x2="107.4" y1="382.25" y2="382.25"/>
<line class="tk" x1="623.60" x2="629.60" y1="382.25" y2="382.25"/>
<line class="tk" x1="113.4" x2="110.4" y1="332.67" y2="332.67"/>
<line class="tk" x1="623.60" x2="626.60" y1="332.67" y2="332.67"/>
<line class="tk" x1="113.4" x2="107.4" y1="283.10" y2="283.10"/>
<line class="tk" x1="623.60" x2="629.60" y1="283.10" y2="283.10"/>
<line class="tk" x1="113.4" x2="110.4" y1="233.52" y2="233.52"/>
<line class="tk" x1="623.60" x2="626.60" y1="233.52" y2="233.52"/>
<line class="tk" x1="113.4" x2="107.4" y1="183.95" y2="183.95"/>
<line class="tk" x1="623.60" x2="629.60" y1="183.95" y2="183.95"/>
<line class="tk" x1="113.4" x2="110.4" y1="134.37" y2="134.37"/>
<line class="tk" x1="623.60" x2="626.60" y1="134.37" y2="134.37"/>
<line class="tk" x1="113.4" x2="107.4" y1="84.80" y2="84.80"/>
<line class="tk" x1="623.60" x2="629.60" y1="84.80" y2="84.80"/>
<rect class="ax" x="113.4" y="84.80" width="510.2" height="396.6"/>
<text x="103.6" y="488.5" font-size="20" text-anchor="end">20</text>
<text x="103.6" y="389.4" font-size="20" text-anchor="end">40</text>
<text x="103.6" y="290.2" font-size="20" text-anchor="end">60</text>
<text x="104.3" y="191.0" font-size="20" text-anchor="end">80</text>
<text x="105.7" y="91.9" font-size="20" text-anchor="end">100</text>
<text x="114.3" y="507.3" font-size="20" text-anchor="middle">00:00</text>
<text x="241.4" y="507.3" font-size="20" text-anchor="middle">06:00</text>
<text x="370.4" y="507.3" font-size="20" text-anchor="middle">12:00</text>
<text x="497.4" y="507.3" font-size="20" text-anchor="middle">18:00</text>
<text x="368.75" y="526.8" font-size="20" text-anchor="middle">Feb-16</text>
<text x="369.6" y="551.5" font-size="24" text-anchor="middle">(LST)</text>
<text x="100.8" y="70" font-size="18">[%]</text>
<text y="45.8" font-size="36"><tspan x="137.3">Relative Humidity </tspan><tspan x="419.1" text-anchor="middle" stroke="#000" stroke-width="0.9">/</tspan><tspan x="600.7" text-anchor="end"> 2014-02-16</tspan></text>
<rect x="637.8" y="397" width="184.8" height="84.3" fill="#fff" stroke="#000" stroke-width="1.25"/>
<line x1="643.4" x2="655" y1="410.8" y2="410.8" stroke="#ff1010" stroke-width="1.3"/>
<circle cx="649.2" cy="410.8" r="1.5" fill="#ff8c8c" stroke="none"/>
<text x="660.2" y="416.3" font-size="18.1">at 29.5 m</text>
<line x1="643.4" x2="655" y1="439.0" y2="439.0" stroke="#10f010" stroke-width="1.3"/>
<circle cx="649.2" cy="439.0" r="1.5" fill="#8cff8c" stroke="none"/>
<text x="660.2" y="444.5" font-size="18.1">at 12.3 m</text>
<line x1="643.4" x2="655" y1="467.2" y2="467.2" stroke="#1010ff" stroke-width="1.3"/>
<circle cx="649.2" cy="467.2" r="1.5" fill="#8c8cff" stroke="none"/>
<text x="660.2" y="472.7" font-size="18.1">at 1.6 m</text>
<text x="780" y="533.4" font-size="12.15" text-anchor="end">©TERC, Univ. Tsukuba</text>
<text x="822.8" y="550.4" font-size="14" text-anchor="end">Observed at TERC Tower site</text>
<text x="822.8" y="567" font-size="14" text-anchor="end">Created Automatically at 2014-02-16/23:55:28</text>
<text x="821.9" y="584.3" font-size="14" text-anchor="end">Data source : /home/hojyo/new/TERC-data/sorted_data/MET.10s.dat</text>
<g id="logo">
<path d="M786.5,503.8 H796.5 C796.8,508 799,510.1 802.2,510.1 C805.4,510.1 807.6,508 807.9,503.8 H817.7 Q819.2,503.8 819.2,505.3 V537.8 H785 V505.3 Q785,503.8 786.5,503.8 Z" fill="#1a62f0"/>
<path d="M802.2,511.6 C802.6,514 805.3,516.2 805.3,518.6 C805.3,520.4 804,521.6 802.2,521.6 C800.4,521.6 799.1,520.4 799.1,518.6 C799.1,516.2 801.8,514 802.2,511.6 Z" fill="#fff"/>
<path d="M785,514.5 A19.1,21.9 0 0 0 819.4,514.5" fill="none" stroke="#fff" stroke-width="1.1"/>
<path d="M785,519.5 A21.8,23.6 0 0 0 819.4,519.5" fill="none" stroke="#fff" stroke-width="1.1"/>
<text transform="translate(0,536.8) scale(0.8,1)" y="0" x="982.75 995.37 1007.50 1016.88" font-size="8.6" font-family="'Liberation Sans',sans-serif" font-weight="bold" fill="#fff" stroke="#fff" stroke-width="0.3">TERC</text>
</g>

</svg></body></html>
